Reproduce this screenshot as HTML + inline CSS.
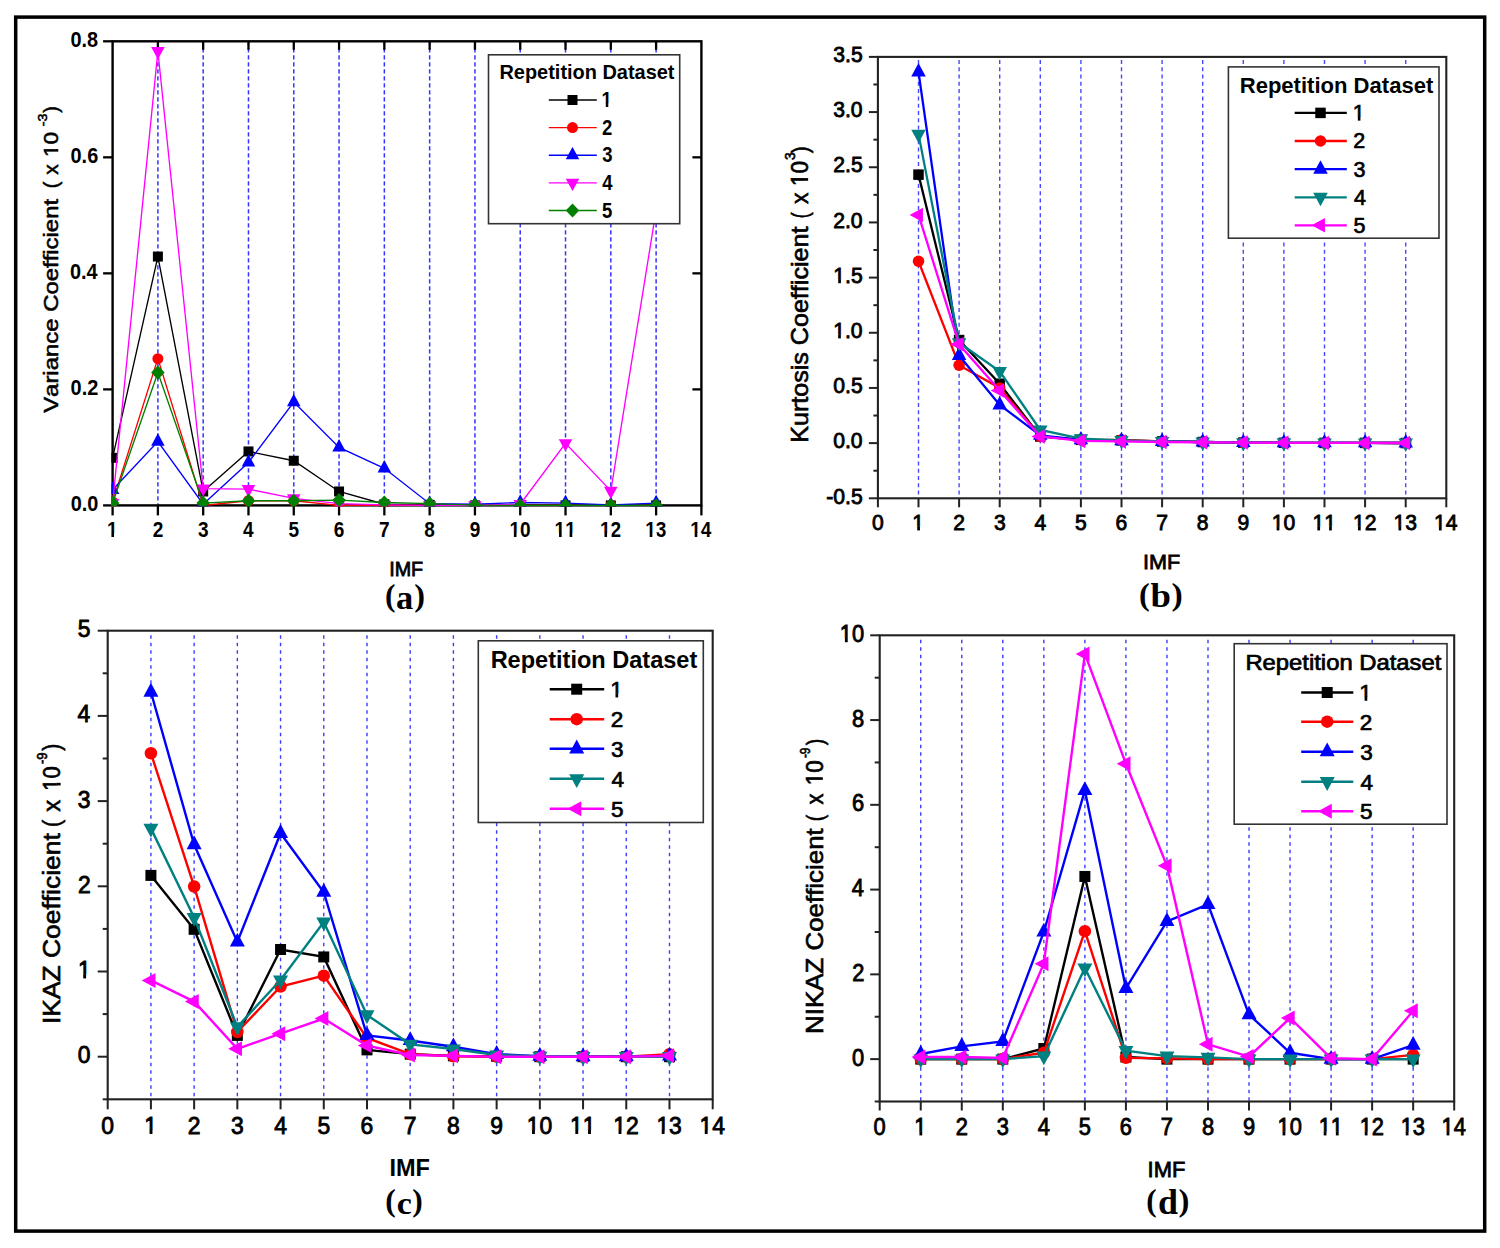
<!DOCTYPE html>
<html><head><meta charset="utf-8"><title>Figure</title>
<style>html,body{margin:0;padding:0;background:#fff;} svg{display:block;} text{font-kerning:none;}</style></head>
<body><svg width="1500" height="1248" viewBox="0 0 1500 1248">
<rect width="1500" height="1248" fill="#fff"/>
<clipPath id="aclip"><rect x="111.40" y="40.10" width="591.20" height="466.50"/></clipPath>
<line x1="157.89" y1="41.30" x2="157.89" y2="505.40" stroke="#3434ff" stroke-width="1.5" stroke-dasharray="4.2 2.8"/>
<line x1="203.18" y1="41.30" x2="203.18" y2="505.40" stroke="#3434ff" stroke-width="1.5" stroke-dasharray="4.2 2.8"/>
<line x1="248.48" y1="41.30" x2="248.48" y2="505.40" stroke="#3434ff" stroke-width="1.5" stroke-dasharray="4.2 2.8"/>
<line x1="293.77" y1="41.30" x2="293.77" y2="505.40" stroke="#3434ff" stroke-width="1.5" stroke-dasharray="4.2 2.8"/>
<line x1="339.06" y1="41.30" x2="339.06" y2="505.40" stroke="#3434ff" stroke-width="1.5" stroke-dasharray="4.2 2.8"/>
<line x1="384.35" y1="41.30" x2="384.35" y2="505.40" stroke="#3434ff" stroke-width="1.5" stroke-dasharray="4.2 2.8"/>
<line x1="429.65" y1="41.30" x2="429.65" y2="505.40" stroke="#3434ff" stroke-width="1.5" stroke-dasharray="4.2 2.8"/>
<line x1="474.94" y1="41.30" x2="474.94" y2="505.40" stroke="#3434ff" stroke-width="1.5" stroke-dasharray="4.2 2.8"/>
<line x1="520.23" y1="41.30" x2="520.23" y2="505.40" stroke="#3434ff" stroke-width="1.5" stroke-dasharray="4.2 2.8"/>
<line x1="565.52" y1="41.30" x2="565.52" y2="505.40" stroke="#3434ff" stroke-width="1.5" stroke-dasharray="4.2 2.8"/>
<line x1="610.82" y1="41.30" x2="610.82" y2="505.40" stroke="#3434ff" stroke-width="1.5" stroke-dasharray="4.2 2.8"/>
<line x1="656.11" y1="41.30" x2="656.11" y2="505.40" stroke="#3434ff" stroke-width="1.5" stroke-dasharray="4.2 2.8"/>
<rect x="112.60" y="41.30" width="588.80" height="464.10" fill="none" stroke="#000" stroke-width="2.4"/>
<line x1="112.60" y1="505.40" x2="112.60" y2="515.40" stroke="#000" stroke-width="2.3"/>
<line x1="157.89" y1="505.40" x2="157.89" y2="515.40" stroke="#000" stroke-width="2.3"/>
<line x1="157.89" y1="41.30" x2="157.89" y2="49.80" stroke="#000" stroke-width="2.3"/>
<line x1="203.18" y1="505.40" x2="203.18" y2="515.40" stroke="#000" stroke-width="2.3"/>
<line x1="203.18" y1="41.30" x2="203.18" y2="49.80" stroke="#000" stroke-width="2.3"/>
<line x1="248.48" y1="505.40" x2="248.48" y2="515.40" stroke="#000" stroke-width="2.3"/>
<line x1="248.48" y1="41.30" x2="248.48" y2="49.80" stroke="#000" stroke-width="2.3"/>
<line x1="293.77" y1="505.40" x2="293.77" y2="515.40" stroke="#000" stroke-width="2.3"/>
<line x1="293.77" y1="41.30" x2="293.77" y2="49.80" stroke="#000" stroke-width="2.3"/>
<line x1="339.06" y1="505.40" x2="339.06" y2="515.40" stroke="#000" stroke-width="2.3"/>
<line x1="339.06" y1="41.30" x2="339.06" y2="49.80" stroke="#000" stroke-width="2.3"/>
<line x1="384.35" y1="505.40" x2="384.35" y2="515.40" stroke="#000" stroke-width="2.3"/>
<line x1="384.35" y1="41.30" x2="384.35" y2="49.80" stroke="#000" stroke-width="2.3"/>
<line x1="429.65" y1="505.40" x2="429.65" y2="515.40" stroke="#000" stroke-width="2.3"/>
<line x1="429.65" y1="41.30" x2="429.65" y2="49.80" stroke="#000" stroke-width="2.3"/>
<line x1="474.94" y1="505.40" x2="474.94" y2="515.40" stroke="#000" stroke-width="2.3"/>
<line x1="474.94" y1="41.30" x2="474.94" y2="49.80" stroke="#000" stroke-width="2.3"/>
<line x1="520.23" y1="505.40" x2="520.23" y2="515.40" stroke="#000" stroke-width="2.3"/>
<line x1="520.23" y1="41.30" x2="520.23" y2="49.80" stroke="#000" stroke-width="2.3"/>
<line x1="565.52" y1="505.40" x2="565.52" y2="515.40" stroke="#000" stroke-width="2.3"/>
<line x1="565.52" y1="41.30" x2="565.52" y2="49.80" stroke="#000" stroke-width="2.3"/>
<line x1="610.82" y1="505.40" x2="610.82" y2="515.40" stroke="#000" stroke-width="2.3"/>
<line x1="610.82" y1="41.30" x2="610.82" y2="49.80" stroke="#000" stroke-width="2.3"/>
<line x1="656.11" y1="505.40" x2="656.11" y2="515.40" stroke="#000" stroke-width="2.3"/>
<line x1="656.11" y1="41.30" x2="656.11" y2="49.80" stroke="#000" stroke-width="2.3"/>
<line x1="701.40" y1="505.40" x2="701.40" y2="515.40" stroke="#000" stroke-width="2.3"/>
<line x1="103.10" y1="505.40" x2="112.60" y2="505.40" stroke="#000" stroke-width="2.3"/>
<line x1="103.10" y1="389.38" x2="112.60" y2="389.38" stroke="#000" stroke-width="2.3"/>
<line x1="692.40" y1="389.38" x2="701.40" y2="389.38" stroke="#000" stroke-width="2.3"/>
<line x1="103.10" y1="273.35" x2="112.60" y2="273.35" stroke="#000" stroke-width="2.3"/>
<line x1="692.40" y1="273.35" x2="701.40" y2="273.35" stroke="#000" stroke-width="2.3"/>
<line x1="103.10" y1="157.33" x2="112.60" y2="157.33" stroke="#000" stroke-width="2.3"/>
<line x1="692.40" y1="157.33" x2="701.40" y2="157.33" stroke="#000" stroke-width="2.3"/>
<line x1="103.10" y1="41.30" x2="112.60" y2="41.30" stroke="#000" stroke-width="2.3"/>
<g clip-path="url(#aclip)">
<polyline fill="none" stroke="#000000" stroke-width="1.35" stroke-linejoin="miter" points="112.60,457.83 157.89,256.53 203.18,491.48 248.48,451.45 293.77,460.73 339.06,491.48 384.35,504.24 429.65,504.82 474.94,505.40 520.23,505.40 565.52,505.40 610.82,505.40 656.11,505.40"/>
<rect x="107.60" y="452.83" width="10.00" height="10.00" fill="#000000"/>
<rect x="152.89" y="251.53" width="10.00" height="10.00" fill="#000000"/>
<rect x="198.18" y="486.48" width="10.00" height="10.00" fill="#000000"/>
<rect x="243.48" y="446.45" width="10.00" height="10.00" fill="#000000"/>
<rect x="288.77" y="455.73" width="10.00" height="10.00" fill="#000000"/>
<rect x="334.06" y="486.48" width="10.00" height="10.00" fill="#000000"/>
<rect x="379.35" y="499.24" width="10.00" height="10.00" fill="#000000"/>
<rect x="424.65" y="499.82" width="10.00" height="10.00" fill="#000000"/>
<rect x="469.94" y="500.40" width="10.00" height="10.00" fill="#000000"/>
<rect x="515.23" y="500.40" width="10.00" height="10.00" fill="#000000"/>
<rect x="560.52" y="500.40" width="10.00" height="10.00" fill="#000000"/>
<rect x="605.82" y="500.40" width="10.00" height="10.00" fill="#000000"/>
<rect x="651.11" y="500.40" width="10.00" height="10.00" fill="#000000"/>
<polyline fill="none" stroke="#ff0000" stroke-width="1.35" stroke-linejoin="miter" points="112.60,501.92 157.89,358.63 203.18,505.40 248.48,500.76 293.77,500.76 339.06,505.40 384.35,505.40 429.65,505.40 474.94,505.40 520.23,505.40 565.52,505.40 610.82,505.40 656.11,505.40"/>
<circle cx="112.60" cy="501.92" r="5.50" fill="#ff0000"/>
<circle cx="157.89" cy="358.63" r="5.50" fill="#ff0000"/>
<circle cx="203.18" cy="505.40" r="5.50" fill="#ff0000"/>
<circle cx="248.48" cy="500.76" r="5.50" fill="#ff0000"/>
<circle cx="293.77" cy="500.76" r="5.50" fill="#ff0000"/>
<circle cx="339.06" cy="505.40" r="5.50" fill="#ff0000"/>
<circle cx="384.35" cy="505.40" r="5.50" fill="#ff0000"/>
<circle cx="429.65" cy="505.40" r="5.50" fill="#ff0000"/>
<circle cx="474.94" cy="505.40" r="5.50" fill="#ff0000"/>
<circle cx="520.23" cy="505.40" r="5.50" fill="#ff0000"/>
<circle cx="565.52" cy="505.40" r="5.50" fill="#ff0000"/>
<circle cx="610.82" cy="505.40" r="5.50" fill="#ff0000"/>
<circle cx="656.11" cy="505.40" r="5.50" fill="#ff0000"/>
<polyline fill="none" stroke="#0000ff" stroke-width="1.35" stroke-linejoin="miter" points="112.60,489.74 157.89,441.59 203.18,504.24 248.48,462.47 293.77,402.14 339.06,447.39 384.35,468.27 429.65,503.66 474.94,504.24 520.23,502.50 565.52,503.08 610.82,504.82 656.11,503.08"/>
<path d="M112.60,481.46 L119.35,493.88 L105.85,493.88 Z" fill="#0000ff"/>
<path d="M157.89,433.31 L164.64,445.73 L151.14,445.73 Z" fill="#0000ff"/>
<path d="M203.18,495.96 L209.93,508.38 L196.43,508.38 Z" fill="#0000ff"/>
<path d="M248.48,454.19 L255.23,466.61 L241.73,466.61 Z" fill="#0000ff"/>
<path d="M293.77,393.86 L300.52,406.28 L287.02,406.28 Z" fill="#0000ff"/>
<path d="M339.06,439.11 L345.81,451.53 L332.31,451.53 Z" fill="#0000ff"/>
<path d="M384.35,459.99 L391.10,472.41 L377.60,472.41 Z" fill="#0000ff"/>
<path d="M429.65,495.38 L436.40,507.80 L422.90,507.80 Z" fill="#0000ff"/>
<path d="M474.94,495.96 L481.69,508.38 L468.19,508.38 Z" fill="#0000ff"/>
<path d="M520.23,494.22 L526.98,506.64 L513.48,506.64 Z" fill="#0000ff"/>
<path d="M565.52,494.80 L572.27,507.22 L558.77,507.22 Z" fill="#0000ff"/>
<path d="M610.82,496.54 L617.57,508.96 L604.07,508.96 Z" fill="#0000ff"/>
<path d="M656.11,494.80 L662.86,507.22 L649.36,507.22 Z" fill="#0000ff"/>
<polyline fill="none" stroke="#ff00ff" stroke-width="1.35" stroke-linejoin="miter" points="112.60,503.08 157.89,51.16 203.18,488.58 248.48,489.16 293.77,498.44 339.06,503.66 384.35,504.82 429.65,505.40 474.94,505.40 520.23,504.24 565.52,443.33 610.82,490.90 656.11,210.12"/>
<path d="M112.60,511.36 L119.35,498.94 L105.85,498.94 Z" fill="#ff00ff"/>
<path d="M157.89,59.44 L164.64,47.02 L151.14,47.02 Z" fill="#ff00ff"/>
<path d="M203.18,496.86 L209.93,484.44 L196.43,484.44 Z" fill="#ff00ff"/>
<path d="M248.48,497.44 L255.23,485.02 L241.73,485.02 Z" fill="#ff00ff"/>
<path d="M293.77,506.72 L300.52,494.30 L287.02,494.30 Z" fill="#ff00ff"/>
<path d="M339.06,511.94 L345.81,499.52 L332.31,499.52 Z" fill="#ff00ff"/>
<path d="M384.35,513.10 L391.10,500.68 L377.60,500.68 Z" fill="#ff00ff"/>
<path d="M429.65,513.68 L436.40,501.26 L422.90,501.26 Z" fill="#ff00ff"/>
<path d="M474.94,513.68 L481.69,501.26 L468.19,501.26 Z" fill="#ff00ff"/>
<path d="M520.23,512.52 L526.98,500.10 L513.48,500.10 Z" fill="#ff00ff"/>
<path d="M565.52,451.61 L572.27,439.19 L558.77,439.19 Z" fill="#ff00ff"/>
<path d="M610.82,499.18 L617.57,486.76 L604.07,486.76 Z" fill="#ff00ff"/>
<path d="M656.11,218.40 L662.86,205.98 L649.36,205.98 Z" fill="#ff00ff"/>
<polyline fill="none" stroke="#008000" stroke-width="1.35" stroke-linejoin="miter" points="112.60,503.08 157.89,372.55 203.18,503.08 248.48,500.76 293.77,500.76 339.06,500.18 384.35,502.50 429.65,503.66 474.94,505.11 520.23,505.40 565.52,505.40 610.82,505.40 656.11,505.40"/>
<path d="M112.60,495.99 L119.35,503.08 L112.60,510.17 L105.85,503.08 Z" fill="#008000"/>
<path d="M157.89,365.46 L164.64,372.55 L157.89,379.64 L151.14,372.55 Z" fill="#008000"/>
<path d="M203.18,495.99 L209.93,503.08 L203.18,510.17 L196.43,503.08 Z" fill="#008000"/>
<path d="M248.48,493.67 L255.23,500.76 L248.48,507.85 L241.73,500.76 Z" fill="#008000"/>
<path d="M293.77,493.67 L300.52,500.76 L293.77,507.85 L287.02,500.76 Z" fill="#008000"/>
<path d="M339.06,493.09 L345.81,500.18 L339.06,507.27 L332.31,500.18 Z" fill="#008000"/>
<path d="M384.35,495.41 L391.10,502.50 L384.35,509.59 L377.60,502.50 Z" fill="#008000"/>
<path d="M429.65,496.57 L436.40,503.66 L429.65,510.75 L422.90,503.66 Z" fill="#008000"/>
<path d="M474.94,498.02 L481.69,505.11 L474.94,512.20 L468.19,505.11 Z" fill="#008000"/>
<path d="M520.23,498.31 L526.98,505.40 L520.23,512.49 L513.48,505.40 Z" fill="#008000"/>
<path d="M565.52,498.31 L572.27,505.40 L565.52,512.49 L558.77,505.40 Z" fill="#008000"/>
<path d="M610.82,498.31 L617.57,505.40 L610.82,512.49 L604.07,505.40 Z" fill="#008000"/>
<path d="M656.11,498.31 L662.86,505.40 L656.11,512.49 L649.36,505.40 Z" fill="#008000"/>
</g>
<text x="106.98" y="537.00" font-family='"Liberation Sans", sans-serif' font-weight="bold" font-size="22.50" textLength="10.57" lengthAdjust="spacingAndGlyphs" fill="#000">1</text><rect x="106.78" y="533.00" width="11.65" height="5.80" fill="#fff"/><rect x="111.42" y="532.70" width="2.61" height="4.30" fill="#000"/>
<text x="152.66" y="537.00" font-family='"Liberation Sans", sans-serif' font-weight="bold" font-size="22.50" textLength="10.57" lengthAdjust="spacingAndGlyphs" fill="#000">2</text>
<text x="198.02" y="537.00" font-family='"Liberation Sans", sans-serif' font-weight="bold" font-size="22.50" textLength="10.57" lengthAdjust="spacingAndGlyphs" fill="#000">3</text>
<text x="243.10" y="537.00" font-family='"Liberation Sans", sans-serif' font-weight="bold" font-size="22.50" textLength="10.57" lengthAdjust="spacingAndGlyphs" fill="#000">4</text>
<text x="288.45" y="537.00" font-family='"Liberation Sans", sans-serif' font-weight="bold" font-size="22.50" textLength="10.57" lengthAdjust="spacingAndGlyphs" fill="#000">5</text>
<text x="333.77" y="537.00" font-family='"Liberation Sans", sans-serif' font-weight="bold" font-size="22.50" textLength="10.57" lengthAdjust="spacingAndGlyphs" fill="#000">6</text>
<text x="379.08" y="537.00" font-family='"Liberation Sans", sans-serif' font-weight="bold" font-size="22.50" textLength="10.57" lengthAdjust="spacingAndGlyphs" fill="#000">7</text>
<text x="424.35" y="537.00" font-family='"Liberation Sans", sans-serif' font-weight="bold" font-size="22.50" textLength="10.57" lengthAdjust="spacingAndGlyphs" fill="#000">8</text>
<text x="469.67" y="537.00" font-family='"Liberation Sans", sans-serif' font-weight="bold" font-size="22.50" textLength="10.57" lengthAdjust="spacingAndGlyphs" fill="#000">9</text>
<text x="509.45" y="537.00" font-family='"Liberation Sans", sans-serif' font-weight="bold" font-size="22.50" textLength="21.15" lengthAdjust="spacingAndGlyphs" fill="#000">10</text><rect x="509.25" y="533.00" width="11.65" height="5.80" fill="#fff"/><rect x="513.89" y="532.70" width="2.61" height="4.30" fill="#000"/>
<text x="554.62" y="537.00" font-family='"Liberation Sans", sans-serif' font-weight="bold" font-size="22.50" textLength="21.15" lengthAdjust="spacingAndGlyphs" fill="#000">11</text><rect x="554.41" y="533.00" width="11.65" height="5.80" fill="#fff"/><rect x="559.05" y="532.70" width="2.61" height="4.30" fill="#000"/><rect x="564.99" y="533.00" width="11.65" height="5.80" fill="#fff"/><rect x="569.63" y="532.70" width="2.61" height="4.30" fill="#000"/>
<text x="600.02" y="537.00" font-family='"Liberation Sans", sans-serif' font-weight="bold" font-size="22.50" textLength="21.15" lengthAdjust="spacingAndGlyphs" fill="#000">12</text><rect x="599.82" y="533.00" width="11.65" height="5.80" fill="#fff"/><rect x="604.46" y="532.70" width="2.61" height="4.30" fill="#000"/>
<text x="645.28" y="537.00" font-family='"Liberation Sans", sans-serif' font-weight="bold" font-size="22.50" textLength="21.15" lengthAdjust="spacingAndGlyphs" fill="#000">13</text><rect x="645.08" y="533.00" width="11.65" height="5.80" fill="#fff"/><rect x="649.72" y="532.70" width="2.61" height="4.30" fill="#000"/>
<text x="690.28" y="537.00" font-family='"Liberation Sans", sans-serif' font-weight="bold" font-size="22.50" textLength="21.15" lengthAdjust="spacingAndGlyphs" fill="#000">14</text><rect x="690.08" y="533.00" width="11.65" height="5.80" fill="#fff"/><rect x="694.72" y="532.70" width="2.61" height="4.30" fill="#000"/>
<text x="70.64" y="511.10" font-family='"Liberation Sans", sans-serif' font-weight="bold" font-size="22.00" textLength="27.68" lengthAdjust="spacingAndGlyphs" fill="#000">0.0</text>
<text x="70.62" y="395.07" font-family='"Liberation Sans", sans-serif' font-weight="bold" font-size="22.00" textLength="27.68" lengthAdjust="spacingAndGlyphs" fill="#000">0.2</text>
<text x="69.93" y="279.05" font-family='"Liberation Sans", sans-serif' font-weight="bold" font-size="22.00" textLength="27.68" lengthAdjust="spacingAndGlyphs" fill="#000">0.4</text>
<text x="70.54" y="163.03" font-family='"Liberation Sans", sans-serif' font-weight="bold" font-size="22.00" textLength="27.68" lengthAdjust="spacingAndGlyphs" fill="#000">0.6</text>
<text x="70.43" y="47.00" font-family='"Liberation Sans", sans-serif' font-weight="bold" font-size="22.00" textLength="27.68" lengthAdjust="spacingAndGlyphs" fill="#000">0.8</text>
<rect x="488.50" y="54.80" width="191.20" height="168.90" fill="#fff" stroke="#333" stroke-width="1.6"/>
<text x="499.47" y="79.40" font-family='"Liberation Sans", sans-serif' font-weight="bold" font-size="20.64" textLength="174.98" lengthAdjust="spacingAndGlyphs" fill="#000" >Repetition Dataset</text>
<line x1="548.80" y1="100.00" x2="596.80" y2="100.00" stroke="#000000" stroke-width="1.35"/>
<rect x="567.50" y="95.00" width="10.00" height="10.00" fill="#000000"/>
<text x="601.44" y="107.00" font-family='"Liberation Sans", sans-serif' font-weight="bold" font-size="21.50" textLength="10.28" lengthAdjust="spacingAndGlyphs" fill="#000">1</text><rect x="601.20" y="103.11" width="11.40" height="5.69" fill="#fff"/><rect x="605.75" y="102.81" width="2.54" height="4.19" fill="#000"/>
<line x1="548.80" y1="127.60" x2="596.80" y2="127.60" stroke="#ff0000" stroke-width="1.35"/>
<circle cx="572.50" cy="127.60" r="5.50" fill="#ff0000"/>
<text x="601.96" y="134.60" font-family='"Liberation Sans", sans-serif' font-weight="bold" font-size="21.50" textLength="10.28" lengthAdjust="spacingAndGlyphs" fill="#000">2</text>
<line x1="548.80" y1="155.20" x2="596.80" y2="155.20" stroke="#0000ff" stroke-width="1.35"/>
<path d="M572.50,146.92 L579.25,159.34 L565.75,159.34 Z" fill="#0000ff"/>
<text x="602.18" y="162.20" font-family='"Liberation Sans", sans-serif' font-weight="bold" font-size="21.50" textLength="10.28" lengthAdjust="spacingAndGlyphs" fill="#000">3</text>
<line x1="548.80" y1="182.80" x2="596.80" y2="182.80" stroke="#ff00ff" stroke-width="1.35"/>
<path d="M572.50,191.08 L579.25,178.66 L565.75,178.66 Z" fill="#ff00ff"/>
<text x="602.32" y="189.80" font-family='"Liberation Sans", sans-serif' font-weight="bold" font-size="21.50" textLength="10.28" lengthAdjust="spacingAndGlyphs" fill="#000">4</text>
<line x1="548.80" y1="210.50" x2="596.80" y2="210.50" stroke="#008000" stroke-width="1.35"/>
<path d="M572.50,203.41 L579.25,210.50 L572.50,217.59 L565.75,210.50 Z" fill="#008000"/>
<text x="602.03" y="217.50" font-family='"Liberation Sans", sans-serif' font-weight="bold" font-size="21.50" textLength="10.28" lengthAdjust="spacingAndGlyphs" fill="#000">5</text>
<g transform="translate(58.00,413.00) rotate(-90)"><text x="0.17" y="0.00" font-family='"Liberation Sans", sans-serif' font-weight="normal" font-size="20.64" textLength="213.93" lengthAdjust="spacingAndGlyphs" stroke="#000" stroke-width="0.55">Variance Coefficient</text></g><g transform="translate(58.00,187.30) rotate(-90)"><text x="-0.95" y="0.00" font-family='"Liberation Sans", sans-serif' font-weight="normal" font-size="20.64" textLength="6.59" lengthAdjust="spacingAndGlyphs" stroke="#000" stroke-width="0.55">(</text></g><g transform="translate(58.00,174.80) rotate(-90)"><text x="0.04" y="0.00" font-family='"Liberation Sans", sans-serif' font-weight="normal" font-size="20.64" textLength="10.51" lengthAdjust="spacingAndGlyphs" stroke="#000" stroke-width="0.55">x</text></g><g transform="translate(58.00,155.60) rotate(-90)"><text x="-1.45" y="0.00" font-family='"Liberation Sans", sans-serif' font-weight="normal" font-size="20.64" textLength="25.16" lengthAdjust="spacingAndGlyphs" stroke="#000" stroke-width="0.55">10</text><rect x="-1.12" y="-3.24" width="12.55" height="5.04" fill="#fff"/><rect x="3.96" y="-3.54" width="2.55" height="3.82" fill="#000"/></g><g transform="translate(58.00,125.80) rotate(-90)"><text x="-0.36" y="-10.60" font-family='"Liberation Sans", sans-serif' font-weight="normal" font-size="12.80" textLength="12.71" lengthAdjust="spacingAndGlyphs" stroke="#000" stroke-width="0.55">-3</text></g><g transform="translate(58.00,112.80) rotate(-90)"><text x="0.16" y="0.00" font-family='"Liberation Sans", sans-serif' font-weight="normal" font-size="20.64" textLength="6.59" lengthAdjust="spacingAndGlyphs" stroke="#000" stroke-width="0.55">)</text></g>
<text x="389.18" y="576.00" font-family='"Liberation Sans", sans-serif' font-weight="normal" font-size="20.79" textLength="34.01" lengthAdjust="spacingAndGlyphs" fill="#000" stroke="#000" stroke-width="0.8" >IMF</text>
<text x="385.11" y="606.23" font-family='"Liberation Serif", serif' font-weight="bold" font-size="30.88" textLength="10.50" lengthAdjust="spacingAndGlyphs" fill="#000" >(</text>
<text x="396.09" y="608.87" font-family='"Liberation Serif", serif' font-weight="bold" font-size="33.40" textLength="17.23" lengthAdjust="spacingAndGlyphs" fill="#000" >a</text>
<text x="414.16" y="606.23" font-family='"Liberation Serif", serif' font-weight="bold" font-size="30.88" textLength="10.76" lengthAdjust="spacingAndGlyphs" fill="#000" >)</text>
<clipPath id="bclip"><rect x="876.85" y="55.85" width="570.50" height="443.50"/></clipPath>
<line x1="918.50" y1="59.90" x2="918.50" y2="498.30" stroke="#4848ff" stroke-width="1.4" stroke-dasharray="4 3.3"/>
<line x1="959.10" y1="59.90" x2="959.10" y2="498.30" stroke="#4848ff" stroke-width="1.4" stroke-dasharray="4 3.3"/>
<line x1="999.70" y1="59.90" x2="999.70" y2="498.30" stroke="#4848ff" stroke-width="1.4" stroke-dasharray="4 3.3"/>
<line x1="1040.30" y1="59.90" x2="1040.30" y2="498.30" stroke="#4848ff" stroke-width="1.4" stroke-dasharray="4 3.3"/>
<line x1="1080.90" y1="59.90" x2="1080.90" y2="498.30" stroke="#4848ff" stroke-width="1.4" stroke-dasharray="4 3.3"/>
<line x1="1121.50" y1="59.90" x2="1121.50" y2="498.30" stroke="#4848ff" stroke-width="1.4" stroke-dasharray="4 3.3"/>
<line x1="1162.10" y1="59.90" x2="1162.10" y2="498.30" stroke="#4848ff" stroke-width="1.4" stroke-dasharray="4 3.3"/>
<line x1="1202.70" y1="59.90" x2="1202.70" y2="498.30" stroke="#4848ff" stroke-width="1.4" stroke-dasharray="4 3.3"/>
<line x1="1243.30" y1="59.90" x2="1243.30" y2="498.30" stroke="#4848ff" stroke-width="1.4" stroke-dasharray="4 3.3"/>
<line x1="1283.90" y1="59.90" x2="1283.90" y2="498.30" stroke="#4848ff" stroke-width="1.4" stroke-dasharray="4 3.3"/>
<line x1="1324.50" y1="59.90" x2="1324.50" y2="498.30" stroke="#4848ff" stroke-width="1.4" stroke-dasharray="4 3.3"/>
<line x1="1365.10" y1="59.90" x2="1365.10" y2="498.30" stroke="#4848ff" stroke-width="1.4" stroke-dasharray="4 3.3"/>
<line x1="1405.70" y1="59.90" x2="1405.70" y2="498.30" stroke="#4848ff" stroke-width="1.4" stroke-dasharray="4 3.3"/>
<rect x="877.90" y="56.90" width="568.40" height="441.40" fill="none" stroke="#222" stroke-width="2.1"/>
<line x1="877.90" y1="498.30" x2="877.90" y2="507.30" stroke="#222" stroke-width="2"/>
<line x1="918.50" y1="498.30" x2="918.50" y2="507.30" stroke="#222" stroke-width="2"/>
<line x1="959.10" y1="498.30" x2="959.10" y2="507.30" stroke="#222" stroke-width="2"/>
<line x1="999.70" y1="498.30" x2="999.70" y2="507.30" stroke="#222" stroke-width="2"/>
<line x1="1040.30" y1="498.30" x2="1040.30" y2="507.30" stroke="#222" stroke-width="2"/>
<line x1="1080.90" y1="498.30" x2="1080.90" y2="507.30" stroke="#222" stroke-width="2"/>
<line x1="1121.50" y1="498.30" x2="1121.50" y2="507.30" stroke="#222" stroke-width="2"/>
<line x1="1162.10" y1="498.30" x2="1162.10" y2="507.30" stroke="#222" stroke-width="2"/>
<line x1="1202.70" y1="498.30" x2="1202.70" y2="507.30" stroke="#222" stroke-width="2"/>
<line x1="1243.30" y1="498.30" x2="1243.30" y2="507.30" stroke="#222" stroke-width="2"/>
<line x1="1283.90" y1="498.30" x2="1283.90" y2="507.30" stroke="#222" stroke-width="2"/>
<line x1="1324.50" y1="498.30" x2="1324.50" y2="507.30" stroke="#222" stroke-width="2"/>
<line x1="1365.10" y1="498.30" x2="1365.10" y2="507.30" stroke="#222" stroke-width="2"/>
<line x1="1405.70" y1="498.30" x2="1405.70" y2="507.30" stroke="#222" stroke-width="2"/>
<line x1="1446.30" y1="498.30" x2="1446.30" y2="507.30" stroke="#222" stroke-width="2"/>
<line x1="868.90" y1="498.30" x2="877.90" y2="498.30" stroke="#222" stroke-width="2"/>
<line x1="868.90" y1="443.12" x2="877.90" y2="443.12" stroke="#222" stroke-width="2"/>
<line x1="868.90" y1="387.95" x2="877.90" y2="387.95" stroke="#222" stroke-width="2"/>
<line x1="868.90" y1="332.77" x2="877.90" y2="332.77" stroke="#222" stroke-width="2"/>
<line x1="868.90" y1="277.60" x2="877.90" y2="277.60" stroke="#222" stroke-width="2"/>
<line x1="868.90" y1="222.43" x2="877.90" y2="222.43" stroke="#222" stroke-width="2"/>
<line x1="868.90" y1="167.25" x2="877.90" y2="167.25" stroke="#222" stroke-width="2"/>
<line x1="868.90" y1="112.07" x2="877.90" y2="112.07" stroke="#222" stroke-width="2"/>
<line x1="868.90" y1="56.90" x2="877.90" y2="56.90" stroke="#222" stroke-width="2"/>
<line x1="873.40" y1="470.71" x2="877.90" y2="470.71" stroke="#222" stroke-width="2"/>
<line x1="873.40" y1="415.54" x2="877.90" y2="415.54" stroke="#222" stroke-width="2"/>
<line x1="873.40" y1="360.36" x2="877.90" y2="360.36" stroke="#222" stroke-width="2"/>
<line x1="873.40" y1="305.19" x2="877.90" y2="305.19" stroke="#222" stroke-width="2"/>
<line x1="873.40" y1="250.01" x2="877.90" y2="250.01" stroke="#222" stroke-width="2"/>
<line x1="873.40" y1="194.84" x2="877.90" y2="194.84" stroke="#222" stroke-width="2"/>
<line x1="873.40" y1="139.66" x2="877.90" y2="139.66" stroke="#222" stroke-width="2"/>
<line x1="873.40" y1="84.49" x2="877.90" y2="84.49" stroke="#222" stroke-width="2"/>
<g clip-path="url(#bclip)">
<polyline fill="none" stroke="#000000" stroke-width="2.3" stroke-linejoin="miter" points="918.50,174.64 959.10,340.06 999.70,383.76 1040.30,436.50 1080.90,439.81 1121.50,440.37 1162.10,441.47 1202.70,442.02 1243.30,442.57 1283.90,442.79 1324.50,442.90 1365.10,442.90 1405.70,443.01"/>
<rect x="913.25" y="169.39" width="10.50" height="10.50" fill="#000000"/>
<rect x="953.85" y="334.81" width="10.50" height="10.50" fill="#000000"/>
<rect x="994.45" y="378.51" width="10.50" height="10.50" fill="#000000"/>
<rect x="1035.05" y="431.25" width="10.50" height="10.50" fill="#000000"/>
<rect x="1075.65" y="434.56" width="10.50" height="10.50" fill="#000000"/>
<rect x="1116.25" y="435.12" width="10.50" height="10.50" fill="#000000"/>
<rect x="1156.85" y="436.22" width="10.50" height="10.50" fill="#000000"/>
<rect x="1197.45" y="436.77" width="10.50" height="10.50" fill="#000000"/>
<rect x="1238.05" y="437.32" width="10.50" height="10.50" fill="#000000"/>
<rect x="1278.65" y="437.54" width="10.50" height="10.50" fill="#000000"/>
<rect x="1319.25" y="437.65" width="10.50" height="10.50" fill="#000000"/>
<rect x="1359.85" y="437.65" width="10.50" height="10.50" fill="#000000"/>
<rect x="1400.45" y="437.76" width="10.50" height="10.50" fill="#000000"/>
<polyline fill="none" stroke="#ff0000" stroke-width="2.3" stroke-linejoin="miter" points="918.50,261.27 959.10,365.22 999.70,387.95 1040.30,436.50 1080.90,439.81 1121.50,439.81 1162.10,441.47 1202.70,442.02 1243.30,442.57 1283.90,442.79 1324.50,442.90 1365.10,442.90 1405.70,443.01"/>
<circle cx="918.50" cy="261.27" r="5.75" fill="#ff0000"/>
<circle cx="959.10" cy="365.22" r="5.75" fill="#ff0000"/>
<circle cx="999.70" cy="387.95" r="5.75" fill="#ff0000"/>
<circle cx="1040.30" cy="436.50" r="5.75" fill="#ff0000"/>
<circle cx="1080.90" cy="439.81" r="5.75" fill="#ff0000"/>
<circle cx="1121.50" cy="439.81" r="5.75" fill="#ff0000"/>
<circle cx="1162.10" cy="441.47" r="5.75" fill="#ff0000"/>
<circle cx="1202.70" cy="442.02" r="5.75" fill="#ff0000"/>
<circle cx="1243.30" cy="442.57" r="5.75" fill="#ff0000"/>
<circle cx="1283.90" cy="442.79" r="5.75" fill="#ff0000"/>
<circle cx="1324.50" cy="442.90" r="5.75" fill="#ff0000"/>
<circle cx="1365.10" cy="442.90" r="5.75" fill="#ff0000"/>
<circle cx="1405.70" cy="443.01" r="5.75" fill="#ff0000"/>
<polyline fill="none" stroke="#0000ff" stroke-width="2.3" stroke-linejoin="miter" points="918.50,72.02 959.10,355.51 999.70,404.94 1040.30,435.40 1080.90,439.81 1121.50,440.92 1162.10,441.47 1202.70,442.02 1243.30,442.57 1283.90,442.79 1324.50,442.90 1365.10,442.90 1405.70,443.01"/>
<path d="M918.50,63.12 L925.75,76.46 L911.25,76.46 Z" fill="#0000ff"/>
<path d="M959.10,346.61 L966.35,359.95 L951.85,359.95 Z" fill="#0000ff"/>
<path d="M999.70,396.05 L1006.95,409.39 L992.45,409.39 Z" fill="#0000ff"/>
<path d="M1040.30,426.51 L1047.55,439.85 L1033.05,439.85 Z" fill="#0000ff"/>
<path d="M1080.90,430.92 L1088.15,444.26 L1073.65,444.26 Z" fill="#0000ff"/>
<path d="M1121.50,432.02 L1128.75,445.36 L1114.25,445.36 Z" fill="#0000ff"/>
<path d="M1162.10,432.58 L1169.35,445.92 L1154.85,445.92 Z" fill="#0000ff"/>
<path d="M1202.70,433.13 L1209.95,446.47 L1195.45,446.47 Z" fill="#0000ff"/>
<path d="M1243.30,433.68 L1250.55,447.02 L1236.05,447.02 Z" fill="#0000ff"/>
<path d="M1283.90,433.90 L1291.15,447.24 L1276.65,447.24 Z" fill="#0000ff"/>
<path d="M1324.50,434.01 L1331.75,447.35 L1317.25,447.35 Z" fill="#0000ff"/>
<path d="M1365.10,434.01 L1372.35,447.35 L1357.85,447.35 Z" fill="#0000ff"/>
<path d="M1405.70,434.12 L1412.95,447.46 L1398.45,447.46 Z" fill="#0000ff"/>
<polyline fill="none" stroke="#008080" stroke-width="2.3" stroke-linejoin="miter" points="918.50,134.14 959.10,342.71 999.70,371.40 1040.30,429.88 1080.90,438.71 1121.50,440.37 1162.10,441.47 1202.70,442.02 1243.30,442.57 1283.90,442.79 1324.50,442.90 1365.10,442.90 1405.70,443.01"/>
<path d="M918.50,143.04 L925.75,129.70 L911.25,129.70 Z" fill="#008080"/>
<path d="M959.10,351.60 L966.35,338.26 L951.85,338.26 Z" fill="#008080"/>
<path d="M999.70,380.29 L1006.95,366.95 L992.45,366.95 Z" fill="#008080"/>
<path d="M1040.30,438.78 L1047.55,425.44 L1033.05,425.44 Z" fill="#008080"/>
<path d="M1080.90,447.60 L1088.15,434.26 L1073.65,434.26 Z" fill="#008080"/>
<path d="M1121.50,449.26 L1128.75,435.92 L1114.25,435.92 Z" fill="#008080"/>
<path d="M1162.10,450.36 L1169.35,437.02 L1154.85,437.02 Z" fill="#008080"/>
<path d="M1202.70,450.91 L1209.95,437.57 L1195.45,437.57 Z" fill="#008080"/>
<path d="M1243.30,451.47 L1250.55,438.13 L1236.05,438.13 Z" fill="#008080"/>
<path d="M1283.90,451.69 L1291.15,438.35 L1276.65,438.35 Z" fill="#008080"/>
<path d="M1324.50,451.80 L1331.75,438.46 L1317.25,438.46 Z" fill="#008080"/>
<path d="M1365.10,451.80 L1372.35,438.46 L1357.85,438.46 Z" fill="#008080"/>
<path d="M1405.70,451.91 L1412.95,438.57 L1398.45,438.57 Z" fill="#008080"/>
<polyline fill="none" stroke="#ff00ff" stroke-width="2.3" stroke-linejoin="miter" points="918.50,214.92 959.10,344.36 999.70,390.49 1040.30,436.50 1080.90,440.92 1121.50,441.47 1162.10,442.02 1202.70,442.24 1243.30,442.57 1283.90,442.79 1324.50,442.90 1365.10,442.90 1405.70,443.01"/>
<path d="M909.61,214.92 L922.95,207.67 L922.95,222.17 Z" fill="#ff00ff"/>
<path d="M950.21,344.36 L963.55,337.11 L963.55,351.61 Z" fill="#ff00ff"/>
<path d="M990.81,390.49 L1004.15,383.24 L1004.15,397.74 Z" fill="#ff00ff"/>
<path d="M1031.41,436.50 L1044.75,429.25 L1044.75,443.75 Z" fill="#ff00ff"/>
<path d="M1072.01,440.92 L1085.35,433.67 L1085.35,448.17 Z" fill="#ff00ff"/>
<path d="M1112.61,441.47 L1125.95,434.22 L1125.95,448.72 Z" fill="#ff00ff"/>
<path d="M1153.21,442.02 L1166.55,434.77 L1166.55,449.27 Z" fill="#ff00ff"/>
<path d="M1193.81,442.24 L1207.15,434.99 L1207.15,449.49 Z" fill="#ff00ff"/>
<path d="M1234.41,442.57 L1247.75,435.32 L1247.75,449.82 Z" fill="#ff00ff"/>
<path d="M1275.01,442.79 L1288.35,435.54 L1288.35,450.04 Z" fill="#ff00ff"/>
<path d="M1315.61,442.90 L1328.95,435.65 L1328.95,450.15 Z" fill="#ff00ff"/>
<path d="M1356.21,442.90 L1369.55,435.65 L1369.55,450.15 Z" fill="#ff00ff"/>
<path d="M1396.81,443.01 L1410.15,435.76 L1410.15,450.26 Z" fill="#ff00ff"/>
</g>
<text x="872.03" y="530.00" font-family='"Liberation Sans", sans-serif' font-weight="normal" font-size="22.00" textLength="11.75" lengthAdjust="spacingAndGlyphs" fill="#000" stroke="#000" stroke-width="0.85">0</text>
<text x="912.34" y="530.00" font-family='"Liberation Sans", sans-serif' font-weight="normal" font-size="22.00" textLength="11.75" lengthAdjust="spacingAndGlyphs" fill="#000" stroke="#000" stroke-width="0.85">1</text><rect x="912.55" y="526.66" width="11.91" height="5.14" fill="#fff"/><rect x="917.22" y="526.36" width="2.72" height="4.07" fill="#000"/>
<text x="953.23" y="530.00" font-family='"Liberation Sans", sans-serif' font-weight="normal" font-size="22.00" textLength="11.75" lengthAdjust="spacingAndGlyphs" fill="#000" stroke="#000" stroke-width="0.85">2</text>
<text x="993.89" y="530.00" font-family='"Liberation Sans", sans-serif' font-weight="normal" font-size="22.00" textLength="11.75" lengthAdjust="spacingAndGlyphs" fill="#000" stroke="#000" stroke-width="0.85">3</text>
<text x="1034.49" y="530.00" font-family='"Liberation Sans", sans-serif' font-weight="normal" font-size="22.00" textLength="11.75" lengthAdjust="spacingAndGlyphs" fill="#000" stroke="#000" stroke-width="0.85">4</text>
<text x="1075.05" y="530.00" font-family='"Liberation Sans", sans-serif' font-weight="normal" font-size="22.00" textLength="11.75" lengthAdjust="spacingAndGlyphs" fill="#000" stroke="#000" stroke-width="0.85">5</text>
<text x="1115.55" y="530.00" font-family='"Liberation Sans", sans-serif' font-weight="normal" font-size="22.00" textLength="11.75" lengthAdjust="spacingAndGlyphs" fill="#000" stroke="#000" stroke-width="0.85">6</text>
<text x="1156.22" y="530.00" font-family='"Liberation Sans", sans-serif' font-weight="normal" font-size="22.00" textLength="11.75" lengthAdjust="spacingAndGlyphs" fill="#000" stroke="#000" stroke-width="0.85">7</text>
<text x="1196.83" y="530.00" font-family='"Liberation Sans", sans-serif' font-weight="normal" font-size="22.00" textLength="11.75" lengthAdjust="spacingAndGlyphs" fill="#000" stroke="#000" stroke-width="0.85">8</text>
<text x="1237.43" y="530.00" font-family='"Liberation Sans", sans-serif' font-weight="normal" font-size="22.00" textLength="11.75" lengthAdjust="spacingAndGlyphs" fill="#000" stroke="#000" stroke-width="0.85">9</text>
<text x="1271.76" y="530.00" font-family='"Liberation Sans", sans-serif' font-weight="normal" font-size="22.00" textLength="23.49" lengthAdjust="spacingAndGlyphs" fill="#000" stroke="#000" stroke-width="0.85">10</text><rect x="1271.97" y="526.66" width="11.91" height="5.14" fill="#fff"/><rect x="1276.65" y="526.36" width="2.72" height="4.07" fill="#000"/>
<text x="1312.47" y="530.00" font-family='"Liberation Sans", sans-serif' font-weight="normal" font-size="22.00" textLength="23.49" lengthAdjust="spacingAndGlyphs" fill="#000" stroke="#000" stroke-width="0.85">11</text><rect x="1312.67" y="526.66" width="11.91" height="5.14" fill="#fff"/><rect x="1317.35" y="526.36" width="2.72" height="4.07" fill="#000"/><rect x="1324.42" y="526.66" width="11.91" height="5.14" fill="#fff"/><rect x="1329.10" y="526.36" width="2.72" height="4.07" fill="#000"/>
<text x="1353.08" y="530.00" font-family='"Liberation Sans", sans-serif' font-weight="normal" font-size="22.00" textLength="23.49" lengthAdjust="spacingAndGlyphs" fill="#000" stroke="#000" stroke-width="0.85">12</text><rect x="1353.29" y="526.66" width="11.91" height="5.14" fill="#fff"/><rect x="1357.97" y="526.36" width="2.72" height="4.07" fill="#000"/>
<text x="1393.61" y="530.00" font-family='"Liberation Sans", sans-serif' font-weight="normal" font-size="22.00" textLength="23.49" lengthAdjust="spacingAndGlyphs" fill="#000" stroke="#000" stroke-width="0.85">13</text><rect x="1393.82" y="526.66" width="11.91" height="5.14" fill="#fff"/><rect x="1398.50" y="526.36" width="2.72" height="4.07" fill="#000"/>
<text x="1434.06" y="530.00" font-family='"Liberation Sans", sans-serif' font-weight="normal" font-size="22.00" textLength="23.49" lengthAdjust="spacingAndGlyphs" fill="#000" stroke="#000" stroke-width="0.85">14</text><rect x="1434.27" y="526.66" width="11.91" height="5.14" fill="#fff"/><rect x="1438.94" y="526.36" width="2.72" height="4.07" fill="#000"/>
<text x="826.29" y="503.50" font-family='"Liberation Sans", sans-serif' font-weight="normal" font-size="22.00" textLength="36.39" lengthAdjust="spacingAndGlyphs" fill="#000" stroke="#000" stroke-width="0.85">-0.5</text>
<text x="833.27" y="448.32" font-family='"Liberation Sans", sans-serif' font-weight="normal" font-size="22.00" textLength="29.36" lengthAdjust="spacingAndGlyphs" fill="#000" stroke="#000" stroke-width="0.85">0.0</text>
<text x="833.33" y="393.15" font-family='"Liberation Sans", sans-serif' font-weight="normal" font-size="22.00" textLength="29.36" lengthAdjust="spacingAndGlyphs" fill="#000" stroke="#000" stroke-width="0.85">0.5</text>
<text x="833.27" y="337.97" font-family='"Liberation Sans", sans-serif' font-weight="normal" font-size="22.00" textLength="29.36" lengthAdjust="spacingAndGlyphs" fill="#000" stroke="#000" stroke-width="0.85">1.0</text><rect x="833.47" y="334.63" width="11.91" height="5.14" fill="#fff"/><rect x="838.15" y="334.33" width="2.72" height="4.07" fill="#000"/>
<text x="833.33" y="282.80" font-family='"Liberation Sans", sans-serif' font-weight="normal" font-size="22.00" textLength="29.36" lengthAdjust="spacingAndGlyphs" fill="#000" stroke="#000" stroke-width="0.85">1.5</text><rect x="833.54" y="279.46" width="11.91" height="5.14" fill="#fff"/><rect x="838.21" y="279.16" width="2.72" height="4.07" fill="#000"/>
<text x="833.27" y="227.62" font-family='"Liberation Sans", sans-serif' font-weight="normal" font-size="22.00" textLength="29.36" lengthAdjust="spacingAndGlyphs" fill="#000" stroke="#000" stroke-width="0.85">2.0</text>
<text x="833.33" y="172.45" font-family='"Liberation Sans", sans-serif' font-weight="normal" font-size="22.00" textLength="29.36" lengthAdjust="spacingAndGlyphs" fill="#000" stroke="#000" stroke-width="0.85">2.5</text>
<text x="833.27" y="117.27" font-family='"Liberation Sans", sans-serif' font-weight="normal" font-size="22.00" textLength="29.36" lengthAdjust="spacingAndGlyphs" fill="#000" stroke="#000" stroke-width="0.85">3.0</text>
<text x="833.33" y="62.10" font-family='"Liberation Sans", sans-serif' font-weight="normal" font-size="22.00" textLength="29.36" lengthAdjust="spacingAndGlyphs" fill="#000" stroke="#000" stroke-width="0.85">3.5</text>
<rect x="1228.40" y="66.90" width="210.60" height="171.30" fill="#fff" stroke="#333" stroke-width="1.6"/>
<text x="1239.73" y="92.50" font-family='"Liberation Sans", sans-serif' font-weight="bold" font-size="21.37" textLength="193.54" lengthAdjust="spacingAndGlyphs" fill="#000" >Repetition Dataset</text>
<line x1="1294.70" y1="112.90" x2="1346.80" y2="112.90" stroke="#000000" stroke-width="2.3"/>
<rect x="1315.25" y="107.65" width="10.50" height="10.50" fill="#000000"/>
<text x="1352.76" y="120.30" font-family='"Liberation Sans", sans-serif' font-weight="normal" font-size="21.50" textLength="11.96" lengthAdjust="spacingAndGlyphs" fill="#000" stroke="#000" stroke-width="0.7">1</text><rect x="1353.00" y="116.99" width="12.07" height="5.11" fill="#fff"/><rect x="1357.82" y="116.69" width="2.60" height="3.96" fill="#000"/>
<line x1="1294.70" y1="141.00" x2="1346.80" y2="141.00" stroke="#ff0000" stroke-width="2.3"/>
<circle cx="1320.50" cy="141.00" r="5.75" fill="#ff0000"/>
<text x="1353.32" y="148.40" font-family='"Liberation Sans", sans-serif' font-weight="normal" font-size="21.50" textLength="11.96" lengthAdjust="spacingAndGlyphs" fill="#000" stroke="#000" stroke-width="0.7">2</text>
<line x1="1294.70" y1="169.20" x2="1346.80" y2="169.20" stroke="#0000ff" stroke-width="2.3"/>
<path d="M1320.50,160.31 L1327.75,173.65 L1313.25,173.65 Z" fill="#0000ff"/>
<text x="1353.58" y="176.60" font-family='"Liberation Sans", sans-serif' font-weight="normal" font-size="21.50" textLength="11.96" lengthAdjust="spacingAndGlyphs" fill="#000" stroke="#000" stroke-width="0.7">3</text>
<line x1="1294.70" y1="197.30" x2="1346.80" y2="197.30" stroke="#008080" stroke-width="2.3"/>
<path d="M1320.50,206.19 L1327.75,192.85 L1313.25,192.85 Z" fill="#008080"/>
<text x="1353.91" y="204.70" font-family='"Liberation Sans", sans-serif' font-weight="normal" font-size="21.50" textLength="11.96" lengthAdjust="spacingAndGlyphs" fill="#000" stroke="#000" stroke-width="0.7">4</text>
<line x1="1294.70" y1="225.30" x2="1346.80" y2="225.30" stroke="#ff00ff" stroke-width="2.3"/>
<path d="M1311.61,225.30 L1324.95,218.05 L1324.95,232.55 Z" fill="#ff00ff"/>
<text x="1353.54" y="232.70" font-family='"Liberation Sans", sans-serif' font-weight="normal" font-size="21.50" textLength="11.96" lengthAdjust="spacingAndGlyphs" fill="#000" stroke="#000" stroke-width="0.7">5</text>
<g transform="translate(807.80,441.00) rotate(-90)"><text x="-1.73" y="0.00" font-family='"Liberation Sans", sans-serif' font-weight="normal" font-size="23.84" textLength="216.09" lengthAdjust="spacingAndGlyphs" stroke="#000" stroke-width="0.65">Kurtosis Coefficient</text></g><g transform="translate(807.80,217.40) rotate(-90)"><text x="-0.76" y="0.00" font-family='"Liberation Sans", sans-serif' font-weight="normal" font-size="23.84" textLength="5.84" lengthAdjust="spacingAndGlyphs" stroke="#000" stroke-width="0.65">(</text></g><g transform="translate(807.80,204.00) rotate(-90)"><text x="0.07" y="0.00" font-family='"Liberation Sans", sans-serif' font-weight="normal" font-size="23.84" textLength="11.45" lengthAdjust="spacingAndGlyphs" stroke="#000" stroke-width="0.65">x</text></g><g transform="translate(807.80,184.70) rotate(-90)"><text x="-1.39" y="0.00" font-family='"Liberation Sans", sans-serif' font-weight="normal" font-size="23.84" textLength="25.04" lengthAdjust="spacingAndGlyphs" stroke="#000" stroke-width="0.65">10</text><rect x="-1.07" y="-3.48" width="12.51" height="5.28" fill="#fff"/><rect x="3.95" y="-3.78" width="2.64" height="4.11" fill="#000"/></g><g transform="translate(807.80,159.70) rotate(-90)"><text x="-0.20" y="-12.60" font-family='"Liberation Sans", sans-serif' font-weight="normal" font-size="15.00" textLength="7.68" lengthAdjust="spacingAndGlyphs" stroke="#000" stroke-width="0.65">3</text></g><g transform="translate(807.80,153.50) rotate(-90)"><text x="0.20" y="0.00" font-family='"Liberation Sans", sans-serif' font-weight="normal" font-size="23.84" textLength="7.10" lengthAdjust="spacingAndGlyphs" stroke="#000" stroke-width="0.65">)</text></g>
<text x="1143.01" y="569.20" font-family='"Liberation Sans", sans-serif' font-weight="normal" font-size="20.93" textLength="37.16" lengthAdjust="spacingAndGlyphs" fill="#000" stroke="#000" stroke-width="0.8" >IMF</text>
<text x="1139.08" y="605.00" font-family='"Liberation Serif", serif' font-weight="bold" font-size="30.99" textLength="10.76" lengthAdjust="spacingAndGlyphs" fill="#000" >(</text>
<text x="1150.63" y="607.26" font-family='"Liberation Serif", serif' font-weight="bold" font-size="34.39" textLength="20.46" lengthAdjust="spacingAndGlyphs" fill="#000" >b</text>
<text x="1171.41" y="605.00" font-family='"Liberation Serif", serif' font-weight="bold" font-size="30.99" textLength="11.28" lengthAdjust="spacingAndGlyphs" fill="#000" >)</text>
<clipPath id="cclip"><rect x="106.65" y="629.65" width="607.10" height="470.70"/></clipPath>
<line x1="150.91" y1="635.20" x2="150.91" y2="1099.30" stroke="#3c3cff" stroke-width="1.4" stroke-dasharray="3.5 4"/>
<line x1="194.13" y1="635.20" x2="194.13" y2="1099.30" stroke="#3c3cff" stroke-width="1.4" stroke-dasharray="3.5 4"/>
<line x1="237.34" y1="635.20" x2="237.34" y2="1099.30" stroke="#3c3cff" stroke-width="1.4" stroke-dasharray="3.5 4"/>
<line x1="280.56" y1="635.20" x2="280.56" y2="1099.30" stroke="#3c3cff" stroke-width="1.4" stroke-dasharray="3.5 4"/>
<line x1="323.77" y1="635.20" x2="323.77" y2="1099.30" stroke="#3c3cff" stroke-width="1.4" stroke-dasharray="3.5 4"/>
<line x1="366.99" y1="635.20" x2="366.99" y2="1099.30" stroke="#3c3cff" stroke-width="1.4" stroke-dasharray="3.5 4"/>
<line x1="410.20" y1="635.20" x2="410.20" y2="1099.30" stroke="#3c3cff" stroke-width="1.4" stroke-dasharray="3.5 4"/>
<line x1="453.41" y1="635.20" x2="453.41" y2="1099.30" stroke="#3c3cff" stroke-width="1.4" stroke-dasharray="3.5 4"/>
<line x1="496.63" y1="635.20" x2="496.63" y2="1099.30" stroke="#3c3cff" stroke-width="1.4" stroke-dasharray="3.5 4"/>
<line x1="539.84" y1="635.20" x2="539.84" y2="1099.30" stroke="#3c3cff" stroke-width="1.4" stroke-dasharray="3.5 4"/>
<line x1="583.06" y1="635.20" x2="583.06" y2="1099.30" stroke="#3c3cff" stroke-width="1.4" stroke-dasharray="3.5 4"/>
<line x1="626.27" y1="635.20" x2="626.27" y2="1099.30" stroke="#3c3cff" stroke-width="1.4" stroke-dasharray="3.5 4"/>
<line x1="669.49" y1="635.20" x2="669.49" y2="1099.30" stroke="#3c3cff" stroke-width="1.4" stroke-dasharray="3.5 4"/>
<rect x="107.70" y="630.70" width="605.00" height="468.60" fill="none" stroke="#222" stroke-width="2.1"/>
<line x1="107.70" y1="1099.30" x2="107.70" y2="1109.30" stroke="#222" stroke-width="2"/>
<line x1="150.91" y1="1099.30" x2="150.91" y2="1109.30" stroke="#222" stroke-width="2"/>
<line x1="194.13" y1="1099.30" x2="194.13" y2="1109.30" stroke="#222" stroke-width="2"/>
<line x1="237.34" y1="1099.30" x2="237.34" y2="1109.30" stroke="#222" stroke-width="2"/>
<line x1="280.56" y1="1099.30" x2="280.56" y2="1109.30" stroke="#222" stroke-width="2"/>
<line x1="323.77" y1="1099.30" x2="323.77" y2="1109.30" stroke="#222" stroke-width="2"/>
<line x1="366.99" y1="1099.30" x2="366.99" y2="1109.30" stroke="#222" stroke-width="2"/>
<line x1="410.20" y1="1099.30" x2="410.20" y2="1109.30" stroke="#222" stroke-width="2"/>
<line x1="453.41" y1="1099.30" x2="453.41" y2="1109.30" stroke="#222" stroke-width="2"/>
<line x1="496.63" y1="1099.30" x2="496.63" y2="1109.30" stroke="#222" stroke-width="2"/>
<line x1="539.84" y1="1099.30" x2="539.84" y2="1109.30" stroke="#222" stroke-width="2"/>
<line x1="583.06" y1="1099.30" x2="583.06" y2="1109.30" stroke="#222" stroke-width="2"/>
<line x1="626.27" y1="1099.30" x2="626.27" y2="1109.30" stroke="#222" stroke-width="2"/>
<line x1="669.49" y1="1099.30" x2="669.49" y2="1109.30" stroke="#222" stroke-width="2"/>
<line x1="712.70" y1="1099.30" x2="712.70" y2="1109.30" stroke="#222" stroke-width="2"/>
<line x1="97.70" y1="1056.70" x2="107.70" y2="1056.70" stroke="#222" stroke-width="2"/>
<line x1="97.70" y1="971.50" x2="107.70" y2="971.50" stroke="#222" stroke-width="2"/>
<line x1="97.70" y1="886.30" x2="107.70" y2="886.30" stroke="#222" stroke-width="2"/>
<line x1="97.70" y1="801.10" x2="107.70" y2="801.10" stroke="#222" stroke-width="2"/>
<line x1="97.70" y1="715.90" x2="107.70" y2="715.90" stroke="#222" stroke-width="2"/>
<line x1="97.70" y1="630.70" x2="107.70" y2="630.70" stroke="#222" stroke-width="2"/>
<line x1="102.70" y1="1099.30" x2="107.70" y2="1099.30" stroke="#222" stroke-width="2"/>
<line x1="102.70" y1="1014.10" x2="107.70" y2="1014.10" stroke="#222" stroke-width="2"/>
<line x1="102.70" y1="928.90" x2="107.70" y2="928.90" stroke="#222" stroke-width="2"/>
<line x1="102.70" y1="843.70" x2="107.70" y2="843.70" stroke="#222" stroke-width="2"/>
<line x1="102.70" y1="758.50" x2="107.70" y2="758.50" stroke="#222" stroke-width="2"/>
<line x1="102.70" y1="673.30" x2="107.70" y2="673.30" stroke="#222" stroke-width="2"/>
<g clip-path="url(#cclip)">
<polyline fill="none" stroke="#000000" stroke-width="2.4" stroke-linejoin="miter" points="150.91,875.39 194.13,929.33 237.34,1035.40 280.56,949.52 323.77,956.93 366.99,1049.88 410.20,1054.14 453.41,1055.85 496.63,1056.27 539.84,1056.70 583.06,1056.70 626.27,1056.70 669.49,1056.70"/>
<rect x="145.41" y="869.89" width="11.00" height="11.00" fill="#000000"/>
<rect x="188.63" y="923.83" width="11.00" height="11.00" fill="#000000"/>
<rect x="231.84" y="1029.90" width="11.00" height="11.00" fill="#000000"/>
<rect x="275.06" y="944.02" width="11.00" height="11.00" fill="#000000"/>
<rect x="318.27" y="951.43" width="11.00" height="11.00" fill="#000000"/>
<rect x="361.49" y="1044.38" width="11.00" height="11.00" fill="#000000"/>
<rect x="404.70" y="1048.64" width="11.00" height="11.00" fill="#000000"/>
<rect x="447.91" y="1050.35" width="11.00" height="11.00" fill="#000000"/>
<rect x="491.13" y="1050.77" width="11.00" height="11.00" fill="#000000"/>
<rect x="534.34" y="1051.20" width="11.00" height="11.00" fill="#000000"/>
<rect x="577.56" y="1051.20" width="11.00" height="11.00" fill="#000000"/>
<rect x="620.77" y="1051.20" width="11.00" height="11.00" fill="#000000"/>
<rect x="663.99" y="1051.20" width="11.00" height="11.00" fill="#000000"/>
<polyline fill="none" stroke="#ff0000" stroke-width="2.4" stroke-linejoin="miter" points="150.91,753.22 194.13,886.47 237.34,1031.99 280.56,986.50 323.77,975.67 366.99,1037.96 410.20,1054.14 453.41,1056.27 496.63,1056.70 539.84,1056.70 583.06,1056.70 626.27,1056.70 669.49,1054.14"/>
<circle cx="150.91" cy="753.22" r="6.25" fill="#ff0000"/>
<circle cx="194.13" cy="886.47" r="6.25" fill="#ff0000"/>
<circle cx="237.34" cy="1031.99" r="6.25" fill="#ff0000"/>
<circle cx="280.56" cy="986.50" r="6.25" fill="#ff0000"/>
<circle cx="323.77" cy="975.67" r="6.25" fill="#ff0000"/>
<circle cx="366.99" cy="1037.96" r="6.25" fill="#ff0000"/>
<circle cx="410.20" cy="1054.14" r="6.25" fill="#ff0000"/>
<circle cx="453.41" cy="1056.27" r="6.25" fill="#ff0000"/>
<circle cx="496.63" cy="1056.70" r="6.25" fill="#ff0000"/>
<circle cx="539.84" cy="1056.70" r="6.25" fill="#ff0000"/>
<circle cx="583.06" cy="1056.70" r="6.25" fill="#ff0000"/>
<circle cx="626.27" cy="1056.70" r="6.25" fill="#ff0000"/>
<circle cx="669.49" cy="1054.14" r="6.25" fill="#ff0000"/>
<polyline fill="none" stroke="#0000ff" stroke-width="2.4" stroke-linejoin="miter" points="150.91,692.04 194.13,844.55 237.34,942.02 280.56,833.31 323.77,892.26 366.99,1035.40 410.20,1040.51 453.41,1046.73 496.63,1054.14 539.84,1056.27 583.06,1056.70 626.27,1056.70 669.49,1055.85"/>
<path d="M150.91,682.84 L158.41,696.64 L143.41,696.64 Z" fill="#0000ff"/>
<path d="M194.13,835.35 L201.63,849.15 L186.63,849.15 Z" fill="#0000ff"/>
<path d="M237.34,932.82 L244.84,946.62 L229.84,946.62 Z" fill="#0000ff"/>
<path d="M280.56,824.11 L288.06,837.91 L273.06,837.91 Z" fill="#0000ff"/>
<path d="M323.77,883.06 L331.27,896.86 L316.27,896.86 Z" fill="#0000ff"/>
<path d="M366.99,1026.20 L374.49,1040.00 L359.49,1040.00 Z" fill="#0000ff"/>
<path d="M410.20,1031.31 L417.70,1045.11 L402.70,1045.11 Z" fill="#0000ff"/>
<path d="M453.41,1037.53 L460.91,1051.33 L445.91,1051.33 Z" fill="#0000ff"/>
<path d="M496.63,1044.94 L504.13,1058.74 L489.13,1058.74 Z" fill="#0000ff"/>
<path d="M539.84,1047.07 L547.34,1060.87 L532.34,1060.87 Z" fill="#0000ff"/>
<path d="M583.06,1047.50 L590.56,1061.30 L575.56,1061.30 Z" fill="#0000ff"/>
<path d="M626.27,1047.50 L633.77,1061.30 L618.77,1061.30 Z" fill="#0000ff"/>
<path d="M669.49,1046.65 L676.99,1060.45 L661.99,1060.45 Z" fill="#0000ff"/>
<polyline fill="none" stroke="#008080" stroke-width="2.4" stroke-linejoin="miter" points="150.91,828.36 194.13,917.48 237.34,1026.88 280.56,980.02 323.77,922.08 366.99,1014.95 410.20,1044.35 453.41,1049.03 496.63,1055.00 539.84,1056.27 583.06,1056.70 626.27,1056.70 669.49,1056.70"/>
<path d="M150.91,837.56 L158.41,823.76 L143.41,823.76 Z" fill="#008080"/>
<path d="M194.13,926.68 L201.63,912.88 L186.63,912.88 Z" fill="#008080"/>
<path d="M237.34,1036.08 L244.84,1022.28 L229.84,1022.28 Z" fill="#008080"/>
<path d="M280.56,989.22 L288.06,975.42 L273.06,975.42 Z" fill="#008080"/>
<path d="M323.77,931.28 L331.27,917.48 L316.27,917.48 Z" fill="#008080"/>
<path d="M366.99,1024.15 L374.49,1010.35 L359.49,1010.35 Z" fill="#008080"/>
<path d="M410.20,1053.55 L417.70,1039.75 L402.70,1039.75 Z" fill="#008080"/>
<path d="M453.41,1058.23 L460.91,1044.43 L445.91,1044.43 Z" fill="#008080"/>
<path d="M496.63,1064.20 L504.13,1050.40 L489.13,1050.40 Z" fill="#008080"/>
<path d="M539.84,1065.47 L547.34,1051.67 L532.34,1051.67 Z" fill="#008080"/>
<path d="M583.06,1065.90 L590.56,1052.10 L575.56,1052.10 Z" fill="#008080"/>
<path d="M626.27,1065.90 L633.77,1052.10 L618.77,1052.10 Z" fill="#008080"/>
<path d="M669.49,1065.90 L676.99,1052.10 L661.99,1052.10 Z" fill="#008080"/>
<polyline fill="none" stroke="#ff00ff" stroke-width="2.4" stroke-linejoin="miter" points="150.91,980.45 194.13,1001.58 237.34,1048.78 280.56,1033.70 323.77,1018.53 366.99,1045.62 410.20,1055.00 453.41,1055.85 496.63,1056.70 539.84,1056.70 583.06,1056.70 626.27,1056.70 669.49,1055.85"/>
<path d="M141.71,980.45 L155.51,972.95 L155.51,987.95 Z" fill="#ff00ff"/>
<path d="M184.93,1001.58 L198.73,994.08 L198.73,1009.08 Z" fill="#ff00ff"/>
<path d="M228.14,1048.78 L241.94,1041.28 L241.94,1056.28 Z" fill="#ff00ff"/>
<path d="M271.36,1033.70 L285.16,1026.20 L285.16,1041.20 Z" fill="#ff00ff"/>
<path d="M314.57,1018.53 L328.37,1011.03 L328.37,1026.03 Z" fill="#ff00ff"/>
<path d="M357.79,1045.62 L371.59,1038.12 L371.59,1053.12 Z" fill="#ff00ff"/>
<path d="M401.00,1055.00 L414.80,1047.50 L414.80,1062.50 Z" fill="#ff00ff"/>
<path d="M444.21,1055.85 L458.01,1048.35 L458.01,1063.35 Z" fill="#ff00ff"/>
<path d="M487.43,1056.70 L501.23,1049.20 L501.23,1064.20 Z" fill="#ff00ff"/>
<path d="M530.64,1056.70 L544.44,1049.20 L544.44,1064.20 Z" fill="#ff00ff"/>
<path d="M573.86,1056.70 L587.66,1049.20 L587.66,1064.20 Z" fill="#ff00ff"/>
<path d="M617.07,1056.70 L630.87,1049.20 L630.87,1064.20 Z" fill="#ff00ff"/>
<path d="M660.29,1055.85 L674.09,1048.35 L674.09,1063.35 Z" fill="#ff00ff"/>
</g>
<text x="101.34" y="1133.60" font-family='"Liberation Sans", sans-serif' font-weight="normal" font-size="23.10" textLength="12.72" lengthAdjust="spacingAndGlyphs" fill="#000" stroke="#000" stroke-width="0.85">0</text>
<text x="144.24" y="1133.60" font-family='"Liberation Sans", sans-serif' font-weight="normal" font-size="23.10" textLength="12.72" lengthAdjust="spacingAndGlyphs" fill="#000" stroke="#000" stroke-width="0.85">1</text><rect x="144.58" y="1130.17" width="12.66" height="5.23" fill="#fff"/><rect x="149.57" y="1129.87" width="2.87" height="4.15" fill="#000"/>
<text x="187.77" y="1133.60" font-family='"Liberation Sans", sans-serif' font-weight="normal" font-size="23.10" textLength="12.72" lengthAdjust="spacingAndGlyphs" fill="#000" stroke="#000" stroke-width="0.85">2</text>
<text x="231.05" y="1133.60" font-family='"Liberation Sans", sans-serif' font-weight="normal" font-size="23.10" textLength="12.72" lengthAdjust="spacingAndGlyphs" fill="#000" stroke="#000" stroke-width="0.85">3</text>
<text x="274.27" y="1133.60" font-family='"Liberation Sans", sans-serif' font-weight="normal" font-size="23.10" textLength="12.72" lengthAdjust="spacingAndGlyphs" fill="#000" stroke="#000" stroke-width="0.85">4</text>
<text x="317.43" y="1133.60" font-family='"Liberation Sans", sans-serif' font-weight="normal" font-size="23.10" textLength="12.72" lengthAdjust="spacingAndGlyphs" fill="#000" stroke="#000" stroke-width="0.85">5</text>
<text x="360.55" y="1133.60" font-family='"Liberation Sans", sans-serif' font-weight="normal" font-size="23.10" textLength="12.72" lengthAdjust="spacingAndGlyphs" fill="#000" stroke="#000" stroke-width="0.85">6</text>
<text x="403.83" y="1133.60" font-family='"Liberation Sans", sans-serif' font-weight="normal" font-size="23.10" textLength="12.72" lengthAdjust="spacingAndGlyphs" fill="#000" stroke="#000" stroke-width="0.85">7</text>
<text x="447.05" y="1133.60" font-family='"Liberation Sans", sans-serif' font-weight="normal" font-size="23.10" textLength="12.72" lengthAdjust="spacingAndGlyphs" fill="#000" stroke="#000" stroke-width="0.85">8</text>
<text x="490.27" y="1133.60" font-family='"Liberation Sans", sans-serif' font-weight="normal" font-size="23.10" textLength="12.72" lengthAdjust="spacingAndGlyphs" fill="#000" stroke="#000" stroke-width="0.85">9</text>
<text x="526.70" y="1133.60" font-family='"Liberation Sans", sans-serif' font-weight="normal" font-size="23.10" textLength="25.44" lengthAdjust="spacingAndGlyphs" fill="#000" stroke="#000" stroke-width="0.85">10</text><rect x="527.04" y="1130.17" width="12.66" height="5.23" fill="#fff"/><rect x="532.03" y="1129.87" width="2.87" height="4.15" fill="#000"/>
<text x="570.03" y="1133.60" font-family='"Liberation Sans", sans-serif' font-weight="normal" font-size="23.10" textLength="25.44" lengthAdjust="spacingAndGlyphs" fill="#000" stroke="#000" stroke-width="0.85">11</text><rect x="570.37" y="1130.17" width="12.66" height="5.23" fill="#fff"/><rect x="575.35" y="1129.87" width="2.87" height="4.15" fill="#000"/><rect x="583.09" y="1130.17" width="12.66" height="5.23" fill="#fff"/><rect x="588.07" y="1129.87" width="2.87" height="4.15" fill="#000"/>
<text x="613.26" y="1133.60" font-family='"Liberation Sans", sans-serif' font-weight="normal" font-size="23.10" textLength="25.44" lengthAdjust="spacingAndGlyphs" fill="#000" stroke="#000" stroke-width="0.85">12</text><rect x="613.60" y="1130.17" width="12.66" height="5.23" fill="#fff"/><rect x="618.58" y="1129.87" width="2.87" height="4.15" fill="#000"/>
<text x="656.40" y="1133.60" font-family='"Liberation Sans", sans-serif' font-weight="normal" font-size="23.10" textLength="25.44" lengthAdjust="spacingAndGlyphs" fill="#000" stroke="#000" stroke-width="0.85">13</text><rect x="656.74" y="1130.17" width="12.66" height="5.23" fill="#fff"/><rect x="661.72" y="1129.87" width="2.87" height="4.15" fill="#000"/>
<text x="699.45" y="1133.60" font-family='"Liberation Sans", sans-serif' font-weight="normal" font-size="23.10" textLength="25.44" lengthAdjust="spacingAndGlyphs" fill="#000" stroke="#000" stroke-width="0.85">14</text><rect x="699.79" y="1130.17" width="12.66" height="5.23" fill="#fff"/><rect x="704.77" y="1129.87" width="2.87" height="4.15" fill="#000"/>
<text x="77.67" y="1063.20" font-family='"Liberation Sans", sans-serif' font-weight="normal" font-size="23.10" textLength="12.72" lengthAdjust="spacingAndGlyphs" fill="#000" stroke="#000" stroke-width="0.85">0</text>
<text x="77.90" y="978.00" font-family='"Liberation Sans", sans-serif' font-weight="normal" font-size="23.10" textLength="12.72" lengthAdjust="spacingAndGlyphs" fill="#000" stroke="#000" stroke-width="0.85">1</text><rect x="78.24" y="974.57" width="12.66" height="5.23" fill="#fff"/><rect x="83.22" y="974.27" width="2.87" height="4.15" fill="#000"/>
<text x="77.93" y="892.80" font-family='"Liberation Sans", sans-serif' font-weight="normal" font-size="23.10" textLength="12.72" lengthAdjust="spacingAndGlyphs" fill="#000" stroke="#000" stroke-width="0.85">2</text>
<text x="77.79" y="807.60" font-family='"Liberation Sans", sans-serif' font-weight="normal" font-size="23.10" textLength="12.72" lengthAdjust="spacingAndGlyphs" fill="#000" stroke="#000" stroke-width="0.85">3</text>
<text x="77.45" y="722.40" font-family='"Liberation Sans", sans-serif' font-weight="normal" font-size="23.10" textLength="12.72" lengthAdjust="spacingAndGlyphs" fill="#000" stroke="#000" stroke-width="0.85">4</text>
<text x="77.74" y="637.20" font-family='"Liberation Sans", sans-serif' font-weight="normal" font-size="23.10" textLength="12.72" lengthAdjust="spacingAndGlyphs" fill="#000" stroke="#000" stroke-width="0.85">5</text>
<rect x="478.30" y="640.80" width="225.00" height="181.70" fill="#fff" stroke="#333" stroke-width="1.6"/>
<text x="490.63" y="667.50" font-family='"Liberation Sans", sans-serif' font-weight="bold" font-size="23.69" textLength="206.66" lengthAdjust="spacingAndGlyphs" fill="#000" >Repetition Dataset</text>
<line x1="549.70" y1="689.20" x2="604.20" y2="689.20" stroke="#000000" stroke-width="2.4"/>
<rect x="571.20" y="683.70" width="11.00" height="11.00" fill="#000000"/>
<text x="610.19" y="697.10" font-family='"Liberation Sans", sans-serif' font-weight="normal" font-size="22.50" textLength="12.51" lengthAdjust="spacingAndGlyphs" fill="#000" stroke="#000" stroke-width="0.7">1</text><rect x="610.50" y="693.72" width="12.50" height="5.18" fill="#fff"/><rect x="615.49" y="693.42" width="2.69" height="4.03" fill="#000"/>
<line x1="549.70" y1="719.20" x2="604.20" y2="719.20" stroke="#ff0000" stroke-width="2.4"/>
<circle cx="576.70" cy="719.20" r="6.25" fill="#ff0000"/>
<text x="610.77" y="727.10" font-family='"Liberation Sans", sans-serif' font-weight="normal" font-size="22.50" textLength="12.51" lengthAdjust="spacingAndGlyphs" fill="#000" stroke="#000" stroke-width="0.7">2</text>
<line x1="549.70" y1="748.80" x2="604.20" y2="748.80" stroke="#0000ff" stroke-width="2.4"/>
<path d="M576.70,739.60 L584.20,753.40 L569.20,753.40 Z" fill="#0000ff"/>
<text x="611.04" y="756.70" font-family='"Liberation Sans", sans-serif' font-weight="normal" font-size="22.50" textLength="12.51" lengthAdjust="spacingAndGlyphs" fill="#000" stroke="#000" stroke-width="0.7">3</text>
<line x1="549.70" y1="778.80" x2="604.20" y2="778.80" stroke="#008080" stroke-width="2.4"/>
<path d="M576.70,788.00 L584.20,774.20 L569.20,774.20 Z" fill="#008080"/>
<text x="611.38" y="786.70" font-family='"Liberation Sans", sans-serif' font-weight="normal" font-size="22.50" textLength="12.51" lengthAdjust="spacingAndGlyphs" fill="#000" stroke="#000" stroke-width="0.7">4</text>
<line x1="549.70" y1="808.80" x2="604.20" y2="808.80" stroke="#ff00ff" stroke-width="2.4"/>
<path d="M567.50,808.80 L581.30,801.30 L581.30,816.30 Z" fill="#ff00ff"/>
<text x="611.00" y="816.70" font-family='"Liberation Sans", sans-serif' font-weight="normal" font-size="22.50" textLength="12.51" lengthAdjust="spacingAndGlyphs" fill="#000" stroke="#000" stroke-width="0.7">5</text>
<g transform="translate(60.30,1021.90) rotate(-90)"><text x="-2.11" y="0.00" font-family='"Liberation Sans", sans-serif' font-weight="normal" font-size="24.42" textLength="190.78" lengthAdjust="spacingAndGlyphs" stroke="#000" stroke-width="0.65">IKAZ Coefficient</text></g><g transform="translate(60.30,825.90) rotate(-90)"><text x="-1.00" y="0.00" font-family='"Liberation Sans", sans-serif' font-weight="normal" font-size="24.42" textLength="7.10" lengthAdjust="spacingAndGlyphs" stroke="#000" stroke-width="0.65">(</text></g><g transform="translate(60.30,811.90) rotate(-90)"><text x="0.06" y="0.00" font-family='"Liberation Sans", sans-serif' font-weight="normal" font-size="24.42" textLength="11.87" lengthAdjust="spacingAndGlyphs" stroke="#000" stroke-width="0.65">x</text></g><g transform="translate(60.30,789.30) rotate(-90)"><text x="-1.35" y="0.00" font-family='"Liberation Sans", sans-serif' font-weight="normal" font-size="24.42" textLength="24.49" lengthAdjust="spacingAndGlyphs" stroke="#000" stroke-width="0.65">10</text><rect x="-1.07" y="-3.52" width="12.29" height="5.32" fill="#fff"/><rect x="3.86" y="-3.82" width="2.60" height="4.15" fill="#000"/></g><g transform="translate(60.30,763.80) rotate(-90)"><text x="-0.25" y="-13.50" font-family='"Liberation Sans", sans-serif' font-weight="normal" font-size="14.80" textLength="11.54" lengthAdjust="spacingAndGlyphs" stroke="#000" stroke-width="0.65">-9</text></g><g transform="translate(60.30,750.90) rotate(-90)"><text x="0.20" y="0.00" font-family='"Liberation Sans", sans-serif' font-weight="normal" font-size="24.42" textLength="7.10" lengthAdjust="spacingAndGlyphs" stroke="#000" stroke-width="0.65">)</text></g>
<text x="389.42" y="1175.80" font-family='"Liberation Sans", sans-serif' font-weight="bold" font-size="23.69" textLength="40.54" lengthAdjust="spacingAndGlyphs" fill="#000" >IMF</text>
<text x="385.31" y="1211.48" font-family='"Liberation Serif", serif' font-weight="bold" font-size="31.10" textLength="10.50" lengthAdjust="spacingAndGlyphs" fill="#000" >(</text>
<text x="396.74" y="1213.91" font-family='"Liberation Serif", serif' font-weight="bold" font-size="31.01" textLength="15.11" lengthAdjust="spacingAndGlyphs" fill="#000" >c</text>
<text x="412.38" y="1211.48" font-family='"Liberation Serif", serif' font-weight="bold" font-size="31.10" textLength="10.50" lengthAdjust="spacingAndGlyphs" fill="#000" >)</text>
<clipPath id="dclip"><rect x="878.65" y="634.25" width="576.60" height="468.30"/></clipPath>
<line x1="920.74" y1="639.80" x2="920.74" y2="1101.50" stroke="#3c3cff" stroke-width="1.4" stroke-dasharray="3.5 4"/>
<line x1="961.77" y1="639.80" x2="961.77" y2="1101.50" stroke="#3c3cff" stroke-width="1.4" stroke-dasharray="3.5 4"/>
<line x1="1002.81" y1="639.80" x2="1002.81" y2="1101.50" stroke="#3c3cff" stroke-width="1.4" stroke-dasharray="3.5 4"/>
<line x1="1043.84" y1="639.80" x2="1043.84" y2="1101.50" stroke="#3c3cff" stroke-width="1.4" stroke-dasharray="3.5 4"/>
<line x1="1084.88" y1="639.80" x2="1084.88" y2="1101.50" stroke="#3c3cff" stroke-width="1.4" stroke-dasharray="3.5 4"/>
<line x1="1125.91" y1="639.80" x2="1125.91" y2="1101.50" stroke="#3c3cff" stroke-width="1.4" stroke-dasharray="3.5 4"/>
<line x1="1166.95" y1="639.80" x2="1166.95" y2="1101.50" stroke="#3c3cff" stroke-width="1.4" stroke-dasharray="3.5 4"/>
<line x1="1207.99" y1="639.80" x2="1207.99" y2="1101.50" stroke="#3c3cff" stroke-width="1.4" stroke-dasharray="3.5 4"/>
<line x1="1249.02" y1="639.80" x2="1249.02" y2="1101.50" stroke="#3c3cff" stroke-width="1.4" stroke-dasharray="3.5 4"/>
<line x1="1290.06" y1="639.80" x2="1290.06" y2="1101.50" stroke="#3c3cff" stroke-width="1.4" stroke-dasharray="3.5 4"/>
<line x1="1331.09" y1="639.80" x2="1331.09" y2="1101.50" stroke="#3c3cff" stroke-width="1.4" stroke-dasharray="3.5 4"/>
<line x1="1372.13" y1="639.80" x2="1372.13" y2="1101.50" stroke="#3c3cff" stroke-width="1.4" stroke-dasharray="3.5 4"/>
<line x1="1413.16" y1="639.80" x2="1413.16" y2="1101.50" stroke="#3c3cff" stroke-width="1.4" stroke-dasharray="3.5 4"/>
<rect x="879.70" y="635.30" width="574.50" height="466.20" fill="none" stroke="#222" stroke-width="2.1"/>
<line x1="879.70" y1="1101.50" x2="879.70" y2="1110.50" stroke="#222" stroke-width="2"/>
<line x1="920.74" y1="1101.50" x2="920.74" y2="1110.50" stroke="#222" stroke-width="2"/>
<line x1="961.77" y1="1101.50" x2="961.77" y2="1110.50" stroke="#222" stroke-width="2"/>
<line x1="1002.81" y1="1101.50" x2="1002.81" y2="1110.50" stroke="#222" stroke-width="2"/>
<line x1="1043.84" y1="1101.50" x2="1043.84" y2="1110.50" stroke="#222" stroke-width="2"/>
<line x1="1084.88" y1="1101.50" x2="1084.88" y2="1110.50" stroke="#222" stroke-width="2"/>
<line x1="1125.91" y1="1101.50" x2="1125.91" y2="1110.50" stroke="#222" stroke-width="2"/>
<line x1="1166.95" y1="1101.50" x2="1166.95" y2="1110.50" stroke="#222" stroke-width="2"/>
<line x1="1207.99" y1="1101.50" x2="1207.99" y2="1110.50" stroke="#222" stroke-width="2"/>
<line x1="1249.02" y1="1101.50" x2="1249.02" y2="1110.50" stroke="#222" stroke-width="2"/>
<line x1="1290.06" y1="1101.50" x2="1290.06" y2="1110.50" stroke="#222" stroke-width="2"/>
<line x1="1331.09" y1="1101.50" x2="1331.09" y2="1110.50" stroke="#222" stroke-width="2"/>
<line x1="1372.13" y1="1101.50" x2="1372.13" y2="1110.50" stroke="#222" stroke-width="2"/>
<line x1="1413.16" y1="1101.50" x2="1413.16" y2="1110.50" stroke="#222" stroke-width="2"/>
<line x1="1454.20" y1="1101.50" x2="1454.20" y2="1110.50" stroke="#222" stroke-width="2"/>
<line x1="870.20" y1="1059.12" x2="879.70" y2="1059.12" stroke="#222" stroke-width="2"/>
<line x1="870.20" y1="974.35" x2="879.70" y2="974.35" stroke="#222" stroke-width="2"/>
<line x1="870.20" y1="889.59" x2="879.70" y2="889.59" stroke="#222" stroke-width="2"/>
<line x1="870.20" y1="804.83" x2="879.70" y2="804.83" stroke="#222" stroke-width="2"/>
<line x1="870.20" y1="720.06" x2="879.70" y2="720.06" stroke="#222" stroke-width="2"/>
<line x1="870.20" y1="635.30" x2="879.70" y2="635.30" stroke="#222" stroke-width="2"/>
<line x1="874.70" y1="1101.50" x2="879.70" y2="1101.50" stroke="#222" stroke-width="2"/>
<line x1="874.70" y1="1016.74" x2="879.70" y2="1016.74" stroke="#222" stroke-width="2"/>
<line x1="874.70" y1="931.97" x2="879.70" y2="931.97" stroke="#222" stroke-width="2"/>
<line x1="874.70" y1="847.21" x2="879.70" y2="847.21" stroke="#222" stroke-width="2"/>
<line x1="874.70" y1="762.45" x2="879.70" y2="762.45" stroke="#222" stroke-width="2"/>
<line x1="874.70" y1="677.68" x2="879.70" y2="677.68" stroke="#222" stroke-width="2"/>
<g clip-path="url(#dclip)">
<polyline fill="none" stroke="#000000" stroke-width="2.4" stroke-linejoin="miter" points="920.74,1059.12 961.77,1059.12 1002.81,1059.12 1043.84,1048.52 1084.88,876.45 1125.91,1057.00 1166.95,1059.12 1207.99,1059.12 1249.02,1059.12 1290.06,1059.12 1331.09,1059.12 1372.13,1059.12 1413.16,1059.12"/>
<rect x="915.24" y="1053.62" width="11.00" height="11.00" fill="#000000"/>
<rect x="956.27" y="1053.62" width="11.00" height="11.00" fill="#000000"/>
<rect x="997.31" y="1053.62" width="11.00" height="11.00" fill="#000000"/>
<rect x="1038.34" y="1043.02" width="11.00" height="11.00" fill="#000000"/>
<rect x="1079.38" y="870.95" width="11.00" height="11.00" fill="#000000"/>
<rect x="1120.41" y="1051.50" width="11.00" height="11.00" fill="#000000"/>
<rect x="1161.45" y="1053.62" width="11.00" height="11.00" fill="#000000"/>
<rect x="1202.49" y="1053.62" width="11.00" height="11.00" fill="#000000"/>
<rect x="1243.52" y="1053.62" width="11.00" height="11.00" fill="#000000"/>
<rect x="1284.56" y="1053.62" width="11.00" height="11.00" fill="#000000"/>
<rect x="1325.59" y="1053.62" width="11.00" height="11.00" fill="#000000"/>
<rect x="1366.63" y="1053.62" width="11.00" height="11.00" fill="#000000"/>
<rect x="1407.66" y="1053.62" width="11.00" height="11.00" fill="#000000"/>
<polyline fill="none" stroke="#ff0000" stroke-width="2.4" stroke-linejoin="miter" points="920.74,1059.12 961.77,1059.12 1002.81,1059.12 1043.84,1052.76 1084.88,931.13 1125.91,1057.85 1166.95,1058.27 1207.99,1059.12 1249.02,1059.12 1290.06,1059.12 1331.09,1059.12 1372.13,1059.12 1413.16,1054.88"/>
<circle cx="920.74" cy="1059.12" r="6.25" fill="#ff0000"/>
<circle cx="961.77" cy="1059.12" r="6.25" fill="#ff0000"/>
<circle cx="1002.81" cy="1059.12" r="6.25" fill="#ff0000"/>
<circle cx="1043.84" cy="1052.76" r="6.25" fill="#ff0000"/>
<circle cx="1084.88" cy="931.13" r="6.25" fill="#ff0000"/>
<circle cx="1125.91" cy="1057.85" r="6.25" fill="#ff0000"/>
<circle cx="1166.95" cy="1058.27" r="6.25" fill="#ff0000"/>
<circle cx="1207.99" cy="1059.12" r="6.25" fill="#ff0000"/>
<circle cx="1249.02" cy="1059.12" r="6.25" fill="#ff0000"/>
<circle cx="1290.06" cy="1059.12" r="6.25" fill="#ff0000"/>
<circle cx="1331.09" cy="1059.12" r="6.25" fill="#ff0000"/>
<circle cx="1372.13" cy="1059.12" r="6.25" fill="#ff0000"/>
<circle cx="1413.16" cy="1054.88" r="6.25" fill="#ff0000"/>
<polyline fill="none" stroke="#0000ff" stroke-width="2.4" stroke-linejoin="miter" points="920.74,1054.03 961.77,1046.40 1002.81,1041.32 1043.84,931.97 1084.88,790.42 1125.91,988.34 1166.95,921.38 1207.99,904.42 1249.02,1014.62 1290.06,1052.76 1331.09,1059.12 1372.13,1059.12 1413.16,1045.13"/>
<path d="M920.74,1044.83 L928.24,1058.63 L913.24,1058.63 Z" fill="#0000ff"/>
<path d="M961.77,1037.20 L969.27,1051.00 L954.27,1051.00 Z" fill="#0000ff"/>
<path d="M1002.81,1032.12 L1010.31,1045.92 L995.31,1045.92 Z" fill="#0000ff"/>
<path d="M1043.84,922.77 L1051.34,936.57 L1036.34,936.57 Z" fill="#0000ff"/>
<path d="M1084.88,781.22 L1092.38,795.02 L1077.38,795.02 Z" fill="#0000ff"/>
<path d="M1125.91,979.14 L1133.41,992.94 L1118.41,992.94 Z" fill="#0000ff"/>
<path d="M1166.95,912.18 L1174.45,925.98 L1159.45,925.98 Z" fill="#0000ff"/>
<path d="M1207.99,895.22 L1215.49,909.02 L1200.49,909.02 Z" fill="#0000ff"/>
<path d="M1249.02,1005.42 L1256.52,1019.22 L1241.52,1019.22 Z" fill="#0000ff"/>
<path d="M1290.06,1043.56 L1297.56,1057.36 L1282.56,1057.36 Z" fill="#0000ff"/>
<path d="M1331.09,1049.92 L1338.59,1063.72 L1323.59,1063.72 Z" fill="#0000ff"/>
<path d="M1372.13,1049.92 L1379.63,1063.72 L1364.63,1063.72 Z" fill="#0000ff"/>
<path d="M1413.16,1035.93 L1420.66,1049.73 L1405.66,1049.73 Z" fill="#0000ff"/>
<polyline fill="none" stroke="#008080" stroke-width="2.4" stroke-linejoin="miter" points="920.74,1059.12 961.77,1059.12 1002.81,1059.12 1043.84,1056.15 1084.88,968.00 1125.91,1050.64 1166.95,1056.15 1207.99,1057.42 1249.02,1059.12 1290.06,1059.12 1331.09,1059.12 1372.13,1059.12 1413.16,1059.12"/>
<path d="M920.74,1068.32 L928.24,1054.52 L913.24,1054.52 Z" fill="#008080"/>
<path d="M961.77,1068.32 L969.27,1054.52 L954.27,1054.52 Z" fill="#008080"/>
<path d="M1002.81,1068.32 L1010.31,1054.52 L995.31,1054.52 Z" fill="#008080"/>
<path d="M1043.84,1065.35 L1051.34,1051.55 L1036.34,1051.55 Z" fill="#008080"/>
<path d="M1084.88,977.20 L1092.38,963.40 L1077.38,963.40 Z" fill="#008080"/>
<path d="M1125.91,1059.84 L1133.41,1046.04 L1118.41,1046.04 Z" fill="#008080"/>
<path d="M1166.95,1065.35 L1174.45,1051.55 L1159.45,1051.55 Z" fill="#008080"/>
<path d="M1207.99,1066.62 L1215.49,1052.82 L1200.49,1052.82 Z" fill="#008080"/>
<path d="M1249.02,1068.32 L1256.52,1054.52 L1241.52,1054.52 Z" fill="#008080"/>
<path d="M1290.06,1068.32 L1297.56,1054.52 L1282.56,1054.52 Z" fill="#008080"/>
<path d="M1331.09,1068.32 L1338.59,1054.52 L1323.59,1054.52 Z" fill="#008080"/>
<path d="M1372.13,1068.32 L1379.63,1054.52 L1364.63,1054.52 Z" fill="#008080"/>
<path d="M1413.16,1068.32 L1420.66,1054.52 L1405.66,1054.52 Z" fill="#008080"/>
<polyline fill="none" stroke="#ff00ff" stroke-width="2.4" stroke-linejoin="miter" points="920.74,1057.00 961.77,1057.00 1002.81,1057.85 1043.84,963.76 1084.88,653.95 1125.91,763.72 1166.95,865.86 1207.99,1044.28 1249.02,1056.58 1290.06,1018.01 1331.09,1058.27 1372.13,1059.12 1413.16,1010.80"/>
<path d="M911.54,1057.00 L925.34,1049.50 L925.34,1064.50 Z" fill="#ff00ff"/>
<path d="M952.57,1057.00 L966.37,1049.50 L966.37,1064.50 Z" fill="#ff00ff"/>
<path d="M993.61,1057.85 L1007.41,1050.35 L1007.41,1065.35 Z" fill="#ff00ff"/>
<path d="M1034.64,963.76 L1048.44,956.26 L1048.44,971.26 Z" fill="#ff00ff"/>
<path d="M1075.68,653.95 L1089.48,646.45 L1089.48,661.45 Z" fill="#ff00ff"/>
<path d="M1116.71,763.72 L1130.51,756.22 L1130.51,771.22 Z" fill="#ff00ff"/>
<path d="M1157.75,865.86 L1171.55,858.36 L1171.55,873.36 Z" fill="#ff00ff"/>
<path d="M1198.79,1044.28 L1212.59,1036.78 L1212.59,1051.78 Z" fill="#ff00ff"/>
<path d="M1239.82,1056.58 L1253.62,1049.08 L1253.62,1064.08 Z" fill="#ff00ff"/>
<path d="M1280.86,1018.01 L1294.66,1010.51 L1294.66,1025.51 Z" fill="#ff00ff"/>
<path d="M1321.89,1058.27 L1335.69,1050.77 L1335.69,1065.77 Z" fill="#ff00ff"/>
<path d="M1362.93,1059.12 L1376.73,1051.62 L1376.73,1066.62 Z" fill="#ff00ff"/>
<path d="M1403.96,1010.80 L1417.76,1003.30 L1417.76,1018.30 Z" fill="#ff00ff"/>
</g>
<text x="873.62" y="1135.00" font-family='"Liberation Sans", sans-serif' font-weight="normal" font-size="23.00" textLength="12.15" lengthAdjust="spacingAndGlyphs" fill="#000" stroke="#000" stroke-width="0.85">0</text>
<text x="914.36" y="1135.00" font-family='"Liberation Sans", sans-serif' font-weight="normal" font-size="23.00" textLength="12.15" lengthAdjust="spacingAndGlyphs" fill="#000" stroke="#000" stroke-width="0.85">1</text><rect x="914.63" y="1131.58" width="12.22" height="5.22" fill="#fff"/><rect x="919.43" y="1131.28" width="2.78" height="4.14" fill="#000"/>
<text x="955.70" y="1135.00" font-family='"Liberation Sans", sans-serif' font-weight="normal" font-size="23.00" textLength="12.15" lengthAdjust="spacingAndGlyphs" fill="#000" stroke="#000" stroke-width="0.85">2</text>
<text x="996.80" y="1135.00" font-family='"Liberation Sans", sans-serif' font-weight="normal" font-size="23.00" textLength="12.15" lengthAdjust="spacingAndGlyphs" fill="#000" stroke="#000" stroke-width="0.85">3</text>
<text x="1037.84" y="1135.00" font-family='"Liberation Sans", sans-serif' font-weight="normal" font-size="23.00" textLength="12.15" lengthAdjust="spacingAndGlyphs" fill="#000" stroke="#000" stroke-width="0.85">4</text>
<text x="1078.82" y="1135.00" font-family='"Liberation Sans", sans-serif' font-weight="normal" font-size="23.00" textLength="12.15" lengthAdjust="spacingAndGlyphs" fill="#000" stroke="#000" stroke-width="0.85">5</text>
<text x="1119.76" y="1135.00" font-family='"Liberation Sans", sans-serif' font-weight="normal" font-size="23.00" textLength="12.15" lengthAdjust="spacingAndGlyphs" fill="#000" stroke="#000" stroke-width="0.85">6</text>
<text x="1160.86" y="1135.00" font-family='"Liberation Sans", sans-serif' font-weight="normal" font-size="23.00" textLength="12.15" lengthAdjust="spacingAndGlyphs" fill="#000" stroke="#000" stroke-width="0.85">7</text>
<text x="1201.91" y="1135.00" font-family='"Liberation Sans", sans-serif' font-weight="normal" font-size="23.00" textLength="12.15" lengthAdjust="spacingAndGlyphs" fill="#000" stroke="#000" stroke-width="0.85">8</text>
<text x="1242.95" y="1135.00" font-family='"Liberation Sans", sans-serif' font-weight="normal" font-size="23.00" textLength="12.15" lengthAdjust="spacingAndGlyphs" fill="#000" stroke="#000" stroke-width="0.85">9</text>
<text x="1277.50" y="1135.00" font-family='"Liberation Sans", sans-serif' font-weight="normal" font-size="23.00" textLength="24.30" lengthAdjust="spacingAndGlyphs" fill="#000" stroke="#000" stroke-width="0.85">10</text><rect x="1277.76" y="1131.58" width="12.22" height="5.22" fill="#fff"/><rect x="1282.57" y="1131.28" width="2.78" height="4.14" fill="#000"/>
<text x="1318.64" y="1135.00" font-family='"Liberation Sans", sans-serif' font-weight="normal" font-size="23.00" textLength="24.30" lengthAdjust="spacingAndGlyphs" fill="#000" stroke="#000" stroke-width="0.85">11</text><rect x="1318.91" y="1131.58" width="12.22" height="5.22" fill="#fff"/><rect x="1323.71" y="1131.28" width="2.78" height="4.14" fill="#000"/><rect x="1331.06" y="1131.58" width="12.22" height="5.22" fill="#fff"/><rect x="1335.86" y="1131.28" width="2.78" height="4.14" fill="#000"/>
<text x="1359.69" y="1135.00" font-family='"Liberation Sans", sans-serif' font-weight="normal" font-size="23.00" textLength="24.30" lengthAdjust="spacingAndGlyphs" fill="#000" stroke="#000" stroke-width="0.85">12</text><rect x="1359.96" y="1131.58" width="12.22" height="5.22" fill="#fff"/><rect x="1364.76" y="1131.28" width="2.78" height="4.14" fill="#000"/>
<text x="1400.66" y="1135.00" font-family='"Liberation Sans", sans-serif' font-weight="normal" font-size="23.00" textLength="24.30" lengthAdjust="spacingAndGlyphs" fill="#000" stroke="#000" stroke-width="0.85">13</text><rect x="1400.92" y="1131.58" width="12.22" height="5.22" fill="#fff"/><rect x="1405.73" y="1131.28" width="2.78" height="4.14" fill="#000"/>
<text x="1441.54" y="1135.00" font-family='"Liberation Sans", sans-serif' font-weight="normal" font-size="23.00" textLength="24.30" lengthAdjust="spacingAndGlyphs" fill="#000" stroke="#000" stroke-width="0.85">14</text><rect x="1441.80" y="1131.58" width="12.22" height="5.22" fill="#fff"/><rect x="1446.61" y="1131.28" width="2.78" height="4.14" fill="#000"/>
<text x="852.00" y="1065.62" font-family='"Liberation Sans", sans-serif' font-weight="normal" font-size="23.00" textLength="12.15" lengthAdjust="spacingAndGlyphs" fill="#000" stroke="#000" stroke-width="0.85">0</text>
<text x="852.25" y="980.85" font-family='"Liberation Sans", sans-serif' font-weight="normal" font-size="23.00" textLength="12.15" lengthAdjust="spacingAndGlyphs" fill="#000" stroke="#000" stroke-width="0.85">2</text>
<text x="851.79" y="896.09" font-family='"Liberation Sans", sans-serif' font-weight="normal" font-size="23.00" textLength="12.15" lengthAdjust="spacingAndGlyphs" fill="#000" stroke="#000" stroke-width="0.85">4</text>
<text x="852.11" y="811.33" font-family='"Liberation Sans", sans-serif' font-weight="normal" font-size="23.00" textLength="12.15" lengthAdjust="spacingAndGlyphs" fill="#000" stroke="#000" stroke-width="0.85">6</text>
<text x="852.10" y="726.56" font-family='"Liberation Sans", sans-serif' font-weight="normal" font-size="23.00" textLength="12.15" lengthAdjust="spacingAndGlyphs" fill="#000" stroke="#000" stroke-width="0.85">8</text>
<text x="839.85" y="641.80" font-family='"Liberation Sans", sans-serif' font-weight="normal" font-size="23.00" textLength="24.30" lengthAdjust="spacingAndGlyphs" fill="#000" stroke="#000" stroke-width="0.85">10</text><rect x="840.11" y="638.38" width="12.22" height="5.22" fill="#fff"/><rect x="844.92" y="638.08" width="2.78" height="4.14" fill="#000"/>
<rect x="1234.20" y="643.70" width="212.80" height="180.50" fill="#fff" stroke="#333" stroke-width="1.6"/>
<text x="1245.40" y="669.65" font-family='"Liberation Sans", sans-serif' font-weight="normal" font-size="21.51" textLength="195.93" lengthAdjust="spacingAndGlyphs" fill="#000" stroke="#000" stroke-width="0.7" >Repetition Dataset</text>
<line x1="1301.20" y1="692.50" x2="1353.30" y2="692.50" stroke="#000000" stroke-width="2.4"/>
<rect x="1321.70" y="687.00" width="11.00" height="11.00" fill="#000000"/>
<text x="1359.29" y="700.40" font-family='"Liberation Sans", sans-serif' font-weight="normal" font-size="22.50" textLength="12.51" lengthAdjust="spacingAndGlyphs" fill="#000" stroke="#000" stroke-width="0.7">1</text><rect x="1359.60" y="697.02" width="12.50" height="5.18" fill="#fff"/><rect x="1364.59" y="696.72" width="2.69" height="4.03" fill="#000"/>
<line x1="1301.20" y1="721.70" x2="1353.30" y2="721.70" stroke="#ff0000" stroke-width="2.4"/>
<circle cx="1327.20" cy="721.70" r="6.25" fill="#ff0000"/>
<text x="1359.87" y="729.60" font-family='"Liberation Sans", sans-serif' font-weight="normal" font-size="22.50" textLength="12.51" lengthAdjust="spacingAndGlyphs" fill="#000" stroke="#000" stroke-width="0.7">2</text>
<line x1="1301.20" y1="751.70" x2="1353.30" y2="751.70" stroke="#0000ff" stroke-width="2.4"/>
<path d="M1327.20,742.50 L1334.70,756.30 L1319.70,756.30 Z" fill="#0000ff"/>
<text x="1360.14" y="759.60" font-family='"Liberation Sans", sans-serif' font-weight="normal" font-size="22.50" textLength="12.51" lengthAdjust="spacingAndGlyphs" fill="#000" stroke="#000" stroke-width="0.7">3</text>
<line x1="1301.20" y1="781.70" x2="1353.30" y2="781.70" stroke="#008080" stroke-width="2.4"/>
<path d="M1327.20,790.90 L1334.70,777.10 L1319.70,777.10 Z" fill="#008080"/>
<text x="1360.48" y="789.60" font-family='"Liberation Sans", sans-serif' font-weight="normal" font-size="22.50" textLength="12.51" lengthAdjust="spacingAndGlyphs" fill="#000" stroke="#000" stroke-width="0.7">4</text>
<line x1="1301.20" y1="811.20" x2="1353.30" y2="811.20" stroke="#ff00ff" stroke-width="2.4"/>
<path d="M1318.00,811.20 L1331.80,803.70 L1331.80,818.70 Z" fill="#ff00ff"/>
<text x="1360.10" y="819.10" font-family='"Liberation Sans", sans-serif' font-weight="normal" font-size="22.50" textLength="12.51" lengthAdjust="spacingAndGlyphs" fill="#000" stroke="#000" stroke-width="0.7">5</text>
<g transform="translate(822.50,1032.10) rotate(-90)"><text x="-1.80" y="0.00" font-family='"Liberation Sans", sans-serif' font-weight="normal" font-size="23.84" textLength="205.66" lengthAdjust="spacingAndGlyphs" stroke="#000" stroke-width="0.65">NIKAZ Coefficient</text></g><g transform="translate(822.50,820.40) rotate(-90)"><text x="-0.88" y="0.00" font-family='"Liberation Sans", sans-serif' font-weight="normal" font-size="23.84" textLength="6.47" lengthAdjust="spacingAndGlyphs" stroke="#000" stroke-width="0.65">(</text></g><g transform="translate(822.50,804.50) rotate(-90)"><text x="0.08" y="0.00" font-family='"Liberation Sans", sans-serif' font-weight="normal" font-size="23.84" textLength="10.83" lengthAdjust="spacingAndGlyphs" stroke="#000" stroke-width="0.65">x</text></g><g transform="translate(822.50,783.80) rotate(-90)"><text x="-1.38" y="0.00" font-family='"Liberation Sans", sans-serif' font-weight="normal" font-size="23.84" textLength="24.93" lengthAdjust="spacingAndGlyphs" stroke="#000" stroke-width="0.65">10</text><rect x="-1.07" y="-3.48" width="12.46" height="5.28" fill="#fff"/><rect x="3.93" y="-3.78" width="2.63" height="4.11" fill="#000"/></g><g transform="translate(822.50,757.90) rotate(-90)"><text x="-0.20" y="-13.00" font-family='"Liberation Sans", sans-serif' font-weight="normal" font-size="14.80" textLength="10.54" lengthAdjust="spacingAndGlyphs" stroke="#000" stroke-width="0.65">-9</text></g><g transform="translate(822.50,745.40) rotate(-90)"><text x="0.21" y="0.00" font-family='"Liberation Sans", sans-serif' font-weight="normal" font-size="23.84" textLength="6.47" lengthAdjust="spacingAndGlyphs" stroke="#000" stroke-width="0.65">)</text></g>
<text x="1147.58" y="1176.80" font-family='"Liberation Sans", sans-serif' font-weight="normal" font-size="21.95" textLength="37.70" lengthAdjust="spacingAndGlyphs" fill="#000" stroke="#000" stroke-width="0.8" >IMF</text>
<text x="1146.13" y="1211.48" font-family='"Liberation Serif", serif' font-weight="bold" font-size="31.10" textLength="10.37" lengthAdjust="spacingAndGlyphs" fill="#000" >(</text>
<text x="1157.95" y="1214.16" font-family='"Liberation Serif", serif' font-weight="bold" font-size="34.96" textLength="19.96" lengthAdjust="spacingAndGlyphs" fill="#000" >d</text>
<text x="1178.45" y="1211.48" font-family='"Liberation Serif", serif' font-weight="bold" font-size="31.10" textLength="10.89" lengthAdjust="spacingAndGlyphs" fill="#000" >)</text>
<rect x="15.7" y="17.1" width="1469.0" height="1214.0" fill="none" stroke="#000" stroke-width="3.5"/>
</svg></body></html>
